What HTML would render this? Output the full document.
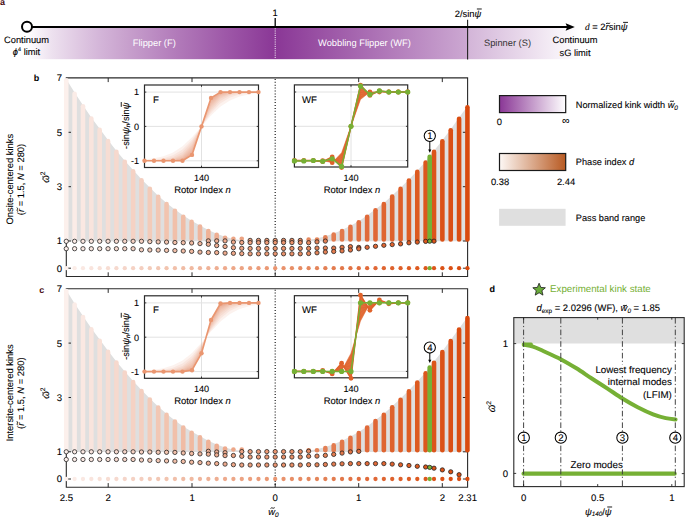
<!DOCTYPE html>
<html><head><meta charset="utf-8"><style>html,body{margin:0;padding:0;background:#fff;overflow:hidden}svg{display:block;text-rendering:geometricPrecision}text{paint-order:stroke;stroke:#000;stroke-width:0.1px}text[fill]{stroke:none}</style></head><body>
<svg width="685" height="517" viewBox="0 0 685 517" font-family="&quot;Liberation Sans&quot;, sans-serif">
<rect width="685" height="517" fill="#fff"></rect>
<defs><linearGradient id="ga" x1="27" x2="580" y1="0" y2="0" gradientUnits="userSpaceOnUse"><stop offset="0" stop-color="#fff"></stop><stop offset="0.0449" stop-color="#ede1ef"></stop><stop offset="0.0898" stop-color="#e0cae3"></stop><stop offset="0.1346" stop-color="#d3b4d8"></stop><stop offset="0.1795" stop-color="#c8a1cd"></stop><stop offset="0.2244" stop-color="#bd8ec4"></stop><stop offset="0.2693" stop-color="#b27bba"></stop><stop offset="0.3142" stop-color="#a86ab1"></stop><stop offset="0.3591" stop-color="#9e58a8"></stop><stop offset="0.4039" stop-color="#94489f"></stop><stop offset="0.4488" stop-color="#8a3796"></stop><stop offset="0.7967" stop-color="#cca8d2"></stop><stop offset="0.7978" stop-color="#d3b5d8"></stop><stop offset="1" stop-color="#fff"></stop></linearGradient><linearGradient id="gp" x1="0" x2="1"><stop offset="0" stop-color="#8a3796"></stop><stop offset="1" stop-color="#fff"></stop></linearGradient><linearGradient id="go" x1="0" x2="1"><stop offset="0" stop-color="#fdf8f5"></stop><stop offset="1" stop-color="#b85a22"></stop></linearGradient></defs>
<rect x="27" y="28" width="553" height="31.2" fill="url(#ga)"></rect>
<line x1="275.2" y1="28.3" x2="275.2" y2="59" stroke="#fff" stroke-width="1" stroke-dasharray="1 1.2"></line>
<line x1="467.6" y1="19.8" x2="467.6" y2="59.4" stroke="#222" stroke-width="1.1"></line>
<line x1="32" y1="27" x2="568" y2="27" stroke="#000" stroke-width="2"></line>
<polygon points="565.6,23.2 574.8,27 565.6,30.8 567.2,27" fill="#000"></polygon>
<circle cx="27" cy="26.8" r="5" fill="#fff" stroke="#000" stroke-width="2"></circle>
<line x1="275.2" y1="18" x2="275.2" y2="27" stroke="#000" stroke-width="1.3"></line>
<text x="275" y="16" text-anchor="middle" font-size="9.4">1</text>
<text x="468" y="16.6" text-anchor="middle" font-size="9.4">2/sin<tspan font-style="italic">ψ</tspan></text><path d="M476.87 8.99 H481.76" fill="none" stroke="#000" stroke-width="0.89"></path>
<text x="585" y="30" font-size="9.4"><tspan font-family="'Liberation Serif', serif" font-style="italic">d</tspan> = 2<tspan font-style="italic">r</tspan>sin<tspan font-style="italic">ψ</tspan></text><path d="M623.08 22.39 H627.97" fill="none" stroke="#000" stroke-width="0.89"></path><path d="M606.03 23.76 C607.06 22.20 609.13 24.46 610.16 22.91" fill="none" stroke="#000" stroke-width="0.89"></path>
<text x="26.5" y="42.8" text-anchor="middle" font-size="9.3">Continuum</text>
<text x="26.5" y="54.6" text-anchor="middle" font-size="9.3"><tspan font-style="italic">ϕ</tspan><tspan font-size="5.5" dy="-3.5">4</tspan><tspan dy="3.5"> limit</tspan></text>
<text x="575" y="42.8" text-anchor="middle" font-size="9.3">Continuum</text>
<text x="575" y="55.8" text-anchor="middle" font-size="9.3">sG limit</text>
<text x="154.3" y="46" text-anchor="middle" font-size="9.3" fill="#fff">Flipper (F)</text>
<text x="364.5" y="46" text-anchor="middle" font-size="9.3" fill="#fff">Wobbling Flipper (WF)</text>
<text x="507.5" y="46" text-anchor="middle" font-size="9.3" fill="#333">Spinner (S)</text>
<text x="0" y="4.5" font-size="9" font-weight="bold" fill="#4a0f14">a</text>
<polygon points="66.2,241.2 66.2,79.1 74.6,92.6 83.0,105.2 91.3,117.4 99.7,128.8 108.0,140.0 116.4,150.7 124.8,160.7 133.1,170.1 141.5,179.2 149.8,187.6 158.2,195.7 166.5,203.0 174.9,209.6 183.3,215.6 191.6,220.8 200.0,225.5 208.3,229.9 216.7,233.8 225.1,236.7 233.4,239.0 241.8,240.3 250.1,241.8 258.5,241.8 266.8,241.8 275.2,241.8 283.6,241.8 291.9,241.8 300.3,241.8 308.6,239.7 317.0,238.5 325.3,236.2 333.7,233.5 342.1,230.0 350.4,225.8 358.8,221.2 367.1,215.6 375.5,209.2 383.9,202.9 392.2,195.4 400.6,187.8 408.9,179.5 417.3,170.7 425.6,161.4 429.7,155.6 434.0,150.8 442.4,140.2 450.7,129.2 459.1,117.6 467.4,106.2 467.4,241.2" fill="#dfdfdf"></polygon>
<path d="M66.3 77.9 H467.6 V276.5 H66.3 Z" fill="none" stroke="#2a2a2a" stroke-width="1.1"></path>
<path d="M108.2 77.9V82.1M108.2 276.5V272.3M192.0 77.9V82.1M192.0 276.5V272.3M358.7 77.9V82.1M358.7 276.5V272.3M442.3 77.9V82.1M442.3 276.5V272.3M275.2 276.5V272.3M66.3 132.3H71.0M467.6 132.3H462.9M66.3 186.7H71.0M467.6 186.7H462.9M66.3 241.0H71.0M467.6 241.0H462.9M66.3 268.2H71.0M467.6 268.2H462.9" stroke="#2a2a2a" stroke-width="1" fill="none"></path>
<line x1="275.2" y1="78.9" x2="275.2" y2="275.5" stroke="#1a1a1a" stroke-width="1.2" stroke-dasharray="1 1.9"></line>
<line x1="66.25" y1="80.2" x2="66.25" y2="238.7" stroke="#fcf0ec" stroke-width="4.6" stroke-linecap="round"></line>
<line x1="74.61" y1="93.7" x2="74.61" y2="238.7" stroke="#fbece7" stroke-width="4.6" stroke-linecap="round"></line>
<line x1="82.97" y1="106.3" x2="82.97" y2="238.7" stroke="#fae8e2" stroke-width="4.6" stroke-linecap="round"></line>
<line x1="91.32" y1="118.5" x2="91.32" y2="238.7" stroke="#f9e4dd" stroke-width="4.6" stroke-linecap="round"></line>
<line x1="99.68" y1="129.9" x2="99.68" y2="238.7" stroke="#f8e1d8" stroke-width="4.6" stroke-linecap="round"></line>
<line x1="108.04" y1="141.1" x2="108.04" y2="238.7" stroke="#f7ddd3" stroke-width="4.6" stroke-linecap="round"></line>
<line x1="116.40" y1="151.8" x2="116.40" y2="238.7" stroke="#f6d9ce" stroke-width="4.6" stroke-linecap="round"></line>
<line x1="124.76" y1="161.8" x2="124.76" y2="238.7" stroke="#f5d5c9" stroke-width="4.6" stroke-linecap="round"></line>
<line x1="133.11" y1="171.2" x2="133.11" y2="238.7" stroke="#f5d2c4" stroke-width="4.6" stroke-linecap="round"></line>
<line x1="141.47" y1="180.3" x2="141.47" y2="238.7" stroke="#f4cebf" stroke-width="4.6" stroke-linecap="round"></line>
<line x1="149.83" y1="188.7" x2="149.83" y2="238.7" stroke="#f3cbb9" stroke-width="4.6" stroke-linecap="round"></line>
<line x1="158.19" y1="196.8" x2="158.19" y2="238.7" stroke="#f2c7b4" stroke-width="4.6" stroke-linecap="round"></line>
<line x1="166.55" y1="204.1" x2="166.55" y2="238.7" stroke="#f2c4af" stroke-width="4.6" stroke-linecap="round"></line>
<line x1="174.90" y1="210.7" x2="174.90" y2="238.7" stroke="#f1c0aa" stroke-width="4.6" stroke-linecap="round"></line>
<line x1="183.26" y1="216.7" x2="183.26" y2="238.7" stroke="#f0bca5" stroke-width="4.6" stroke-linecap="round"></line>
<line x1="191.62" y1="221.9" x2="191.62" y2="238.7" stroke="#f0b9a0" stroke-width="4.6" stroke-linecap="round"></line>
<line x1="199.98" y1="226.6" x2="199.98" y2="238.7" stroke="#efb59c" stroke-width="4.6" stroke-linecap="round"></line>
<line x1="208.34" y1="231.0" x2="208.34" y2="238.7" stroke="#efb297" stroke-width="4.6" stroke-linecap="round"></line>
<line x1="216.69" y1="234.9" x2="216.69" y2="238.7" stroke="#eeae92" stroke-width="4.6" stroke-linecap="round"></line>
<line x1="225.05" y1="237.8" x2="225.05" y2="238.7" stroke="#eeaa8d" stroke-width="4.6" stroke-linecap="round"></line>
<line x1="233.41" y1="238.7" x2="233.41" y2="238.7" stroke="#eda788" stroke-width="4.6" stroke-linecap="round"></line>
<line x1="241.77" y1="238.7" x2="241.77" y2="238.7" stroke="#eca383" stroke-width="4.6" stroke-linecap="round"></line>
<line x1="308.63" y1="239.5" x2="308.63" y2="239.5" stroke="#e5885e" stroke-width="4.6" stroke-linecap="round"></line>
<line x1="316.99" y1="239.5" x2="316.99" y2="239.5" stroke="#e4855a" stroke-width="4.6" stroke-linecap="round"></line>
<line x1="325.35" y1="237.3" x2="325.35" y2="239.5" stroke="#e38055" stroke-width="4.6" stroke-linecap="round"></line>
<line x1="333.71" y1="234.6" x2="333.71" y2="239.5" stroke="#e37c4f" stroke-width="4.6" stroke-linecap="round"></line>
<line x1="342.06" y1="231.1" x2="342.06" y2="239.5" stroke="#e2784a" stroke-width="4.6" stroke-linecap="round"></line>
<line x1="350.42" y1="226.9" x2="350.42" y2="239.5" stroke="#e17345" stroke-width="4.6" stroke-linecap="round"></line>
<line x1="358.78" y1="222.3" x2="358.78" y2="239.5" stroke="#e16e3f" stroke-width="4.6" stroke-linecap="round"></line>
<line x1="367.14" y1="216.7" x2="367.14" y2="239.5" stroke="#e06a3a" stroke-width="4.6" stroke-linecap="round"></line>
<line x1="375.50" y1="210.3" x2="375.50" y2="239.5" stroke="#e06736" stroke-width="4.6" stroke-linecap="round"></line>
<line x1="383.85" y1="204.0" x2="383.85" y2="239.5" stroke="#df6531" stroke-width="4.6" stroke-linecap="round"></line>
<line x1="392.21" y1="196.5" x2="392.21" y2="239.5" stroke="#de622d" stroke-width="4.6" stroke-linecap="round"></line>
<line x1="400.57" y1="188.9" x2="400.57" y2="239.5" stroke="#de5f29" stroke-width="4.6" stroke-linecap="round"></line>
<line x1="408.93" y1="180.6" x2="408.93" y2="239.5" stroke="#de5d24" stroke-width="4.6" stroke-linecap="round"></line>
<line x1="417.29" y1="171.8" x2="417.29" y2="239.5" stroke="#dd5a20" stroke-width="4.6" stroke-linecap="round"></line>
<line x1="425.64" y1="162.5" x2="425.64" y2="239.5" stroke="#dc571d" stroke-width="4.6" stroke-linecap="round"></line>
<line x1="434.00" y1="151.9" x2="434.00" y2="239.5" stroke="#dc551a" stroke-width="4.6" stroke-linecap="round"></line>
<line x1="442.36" y1="141.3" x2="442.36" y2="239.5" stroke="#db5217" stroke-width="4.6" stroke-linecap="round"></line>
<line x1="450.72" y1="130.3" x2="450.72" y2="239.5" stroke="#da4f14" stroke-width="4.6" stroke-linecap="round"></line>
<line x1="459.08" y1="118.7" x2="459.08" y2="239.5" stroke="#da4d11" stroke-width="4.6" stroke-linecap="round"></line>
<line x1="467.43" y1="107.3" x2="467.43" y2="239.5" stroke="#d94a0e" stroke-width="4.6" stroke-linecap="round"></line>
<line x1="429.70" y1="156.7" x2="429.70" y2="239.5" stroke="#76b035" stroke-width="4.6" stroke-linecap="round"></line>
<circle cx="66.25" cy="241.3" r="2.15" fill="#fcf0ec" stroke="#1a1a1a" stroke-width="0.75"></circle>
<circle cx="66.25" cy="248.7" r="2.15" fill="#fcf0ec" stroke="#1a1a1a" stroke-width="0.75"></circle>
<circle cx="74.61" cy="241.3" r="2.15" fill="#fbece7" stroke="#1a1a1a" stroke-width="0.75"></circle>
<circle cx="74.61" cy="248.7" r="2.15" fill="#fbece7" stroke="#1a1a1a" stroke-width="0.75"></circle>
<circle cx="82.97" cy="241.3" r="2.15" fill="#fae8e2" stroke="#1a1a1a" stroke-width="0.75"></circle>
<circle cx="82.97" cy="248.7" r="2.15" fill="#fae8e2" stroke="#1a1a1a" stroke-width="0.75"></circle>
<circle cx="91.32" cy="241.3" r="2.15" fill="#f9e4dd" stroke="#1a1a1a" stroke-width="0.75"></circle>
<circle cx="91.32" cy="248.7" r="2.15" fill="#f9e4dd" stroke="#1a1a1a" stroke-width="0.75"></circle>
<circle cx="99.68" cy="241.3" r="2.15" fill="#f8e1d8" stroke="#1a1a1a" stroke-width="0.75"></circle>
<circle cx="99.68" cy="248.7" r="2.15" fill="#f8e1d8" stroke="#1a1a1a" stroke-width="0.75"></circle>
<circle cx="108.04" cy="241.3" r="2.15" fill="#f7ddd3" stroke="#1a1a1a" stroke-width="0.75"></circle>
<circle cx="108.04" cy="248.7" r="2.15" fill="#f7ddd3" stroke="#1a1a1a" stroke-width="0.75"></circle>
<circle cx="116.40" cy="241.3" r="2.15" fill="#f6d9ce" stroke="#1a1a1a" stroke-width="0.75"></circle>
<circle cx="116.40" cy="248.7" r="2.15" fill="#f6d9ce" stroke="#1a1a1a" stroke-width="0.75"></circle>
<circle cx="124.76" cy="241.3" r="2.15" fill="#f5d5c9" stroke="#1a1a1a" stroke-width="0.75"></circle>
<circle cx="124.76" cy="248.7" r="2.15" fill="#f5d5c9" stroke="#1a1a1a" stroke-width="0.75"></circle>
<circle cx="133.11" cy="241.3" r="2.15" fill="#f5d2c4" stroke="#1a1a1a" stroke-width="0.75"></circle>
<circle cx="133.11" cy="248.7" r="2.15" fill="#f5d2c4" stroke="#1a1a1a" stroke-width="0.75"></circle>
<circle cx="141.47" cy="241.3" r="2.15" fill="#f4cebf" stroke="#1a1a1a" stroke-width="0.75"></circle>
<circle cx="141.47" cy="249.8" r="2.15" fill="#f4cebf" stroke="#1a1a1a" stroke-width="0.75"></circle>
<circle cx="149.83" cy="241.6" r="2.15" fill="#f3cbb9" stroke="#1a1a1a" stroke-width="0.75"></circle>
<circle cx="149.83" cy="250.0" r="2.15" fill="#f3cbb9" stroke="#1a1a1a" stroke-width="0.75"></circle>
<circle cx="158.19" cy="241.9" r="2.15" fill="#f2c7b4" stroke="#1a1a1a" stroke-width="0.75"></circle>
<circle cx="158.19" cy="250.1" r="2.15" fill="#f2c7b4" stroke="#1a1a1a" stroke-width="0.75"></circle>
<circle cx="166.55" cy="242.1" r="2.15" fill="#f2c4af" stroke="#1a1a1a" stroke-width="0.75"></circle>
<circle cx="166.55" cy="250.4" r="2.15" fill="#f2c4af" stroke="#1a1a1a" stroke-width="0.75"></circle>
<circle cx="174.90" cy="242.5" r="2.15" fill="#f1c0aa" stroke="#1a1a1a" stroke-width="0.75"></circle>
<circle cx="174.90" cy="250.6" r="2.15" fill="#f1c0aa" stroke="#1a1a1a" stroke-width="0.75"></circle>
<circle cx="183.26" cy="242.7" r="2.15" fill="#f0bca5" stroke="#1a1a1a" stroke-width="0.75"></circle>
<circle cx="183.26" cy="251.0" r="2.15" fill="#f0bca5" stroke="#1a1a1a" stroke-width="0.75"></circle>
<circle cx="191.62" cy="243.0" r="2.15" fill="#f0b9a0" stroke="#1a1a1a" stroke-width="0.75"></circle>
<circle cx="191.62" cy="251.4" r="2.15" fill="#f0b9a0" stroke="#1a1a1a" stroke-width="0.75"></circle>
<circle cx="199.98" cy="243.6" r="2.15" fill="#efb59c" stroke="#1a1a1a" stroke-width="0.75"></circle>
<circle cx="199.98" cy="252.1" r="2.15" fill="#efb59c" stroke="#1a1a1a" stroke-width="0.75"></circle>
<circle cx="208.34" cy="240.9" r="2.15" fill="#efb297" stroke="#1a1a1a" stroke-width="0.75"></circle>
<circle cx="208.34" cy="244.3" r="2.15" fill="#efb297" stroke="#1a1a1a" stroke-width="0.75"></circle>
<circle cx="208.34" cy="252.5" r="2.15" fill="#efb297" stroke="#1a1a1a" stroke-width="0.75"></circle>
<circle cx="216.69" cy="240.9" r="2.15" fill="#eeae92" stroke="#1a1a1a" stroke-width="0.75"></circle>
<circle cx="216.69" cy="245.6" r="2.15" fill="#eeae92" stroke="#1a1a1a" stroke-width="0.75"></circle>
<circle cx="216.69" cy="252.6" r="2.15" fill="#eeae92" stroke="#1a1a1a" stroke-width="0.75"></circle>
<circle cx="225.05" cy="240.9" r="2.15" fill="#eeaa8d" stroke="#1a1a1a" stroke-width="0.75"></circle>
<circle cx="225.05" cy="246.5" r="2.15" fill="#eeaa8d" stroke="#1a1a1a" stroke-width="0.75"></circle>
<circle cx="225.05" cy="253.1" r="2.15" fill="#eeaa8d" stroke="#1a1a1a" stroke-width="0.75"></circle>
<circle cx="233.41" cy="242.1" r="2.15" fill="#eda788" stroke="#1a1a1a" stroke-width="0.75"></circle>
<circle cx="233.41" cy="247.7" r="2.15" fill="#eda788" stroke="#1a1a1a" stroke-width="0.75"></circle>
<circle cx="233.41" cy="253.3" r="2.15" fill="#eda788" stroke="#1a1a1a" stroke-width="0.75"></circle>
<circle cx="241.77" cy="242.5" r="2.15" fill="#eca383" stroke="#1a1a1a" stroke-width="0.75"></circle>
<circle cx="241.77" cy="248.3" r="2.15" fill="#eca383" stroke="#1a1a1a" stroke-width="0.75"></circle>
<circle cx="241.77" cy="253.6" r="2.15" fill="#eca383" stroke="#1a1a1a" stroke-width="0.75"></circle>
<circle cx="250.13" cy="240.4" r="2.15" fill="#eca07e" stroke="#1a1a1a" stroke-width="0.75"></circle>
<circle cx="250.13" cy="242.6" r="2.15" fill="#eca07e" stroke="#1a1a1a" stroke-width="0.75"></circle>
<circle cx="250.13" cy="248.5" r="2.15" fill="#eca07e" stroke="#1a1a1a" stroke-width="0.75"></circle>
<circle cx="250.13" cy="253.8" r="2.15" fill="#eca07e" stroke="#1a1a1a" stroke-width="0.75"></circle>
<circle cx="258.48" cy="240.4" r="2.15" fill="#eb9c7a" stroke="#1a1a1a" stroke-width="0.75"></circle>
<circle cx="258.48" cy="242.6" r="2.15" fill="#eb9c7a" stroke="#1a1a1a" stroke-width="0.75"></circle>
<circle cx="258.48" cy="248.5" r="2.15" fill="#eb9c7a" stroke="#1a1a1a" stroke-width="0.75"></circle>
<circle cx="258.48" cy="253.8" r="2.15" fill="#eb9c7a" stroke="#1a1a1a" stroke-width="0.75"></circle>
<circle cx="266.84" cy="240.4" r="2.15" fill="#eb9975" stroke="#1a1a1a" stroke-width="0.75"></circle>
<circle cx="266.84" cy="242.6" r="2.15" fill="#eb9975" stroke="#1a1a1a" stroke-width="0.75"></circle>
<circle cx="266.84" cy="248.5" r="2.15" fill="#eb9975" stroke="#1a1a1a" stroke-width="0.75"></circle>
<circle cx="266.84" cy="253.8" r="2.15" fill="#eb9975" stroke="#1a1a1a" stroke-width="0.75"></circle>
<circle cx="275.20" cy="240.4" r="2.15" fill="#ea9570" stroke="#1a1a1a" stroke-width="0.75"></circle>
<circle cx="275.20" cy="242.6" r="2.15" fill="#ea9570" stroke="#1a1a1a" stroke-width="0.75"></circle>
<circle cx="275.20" cy="248.5" r="2.15" fill="#ea9570" stroke="#1a1a1a" stroke-width="0.75"></circle>
<circle cx="275.20" cy="253.8" r="2.15" fill="#ea9570" stroke="#1a1a1a" stroke-width="0.75"></circle>
<circle cx="283.56" cy="240.4" r="2.15" fill="#e9926c" stroke="#1a1a1a" stroke-width="0.75"></circle>
<circle cx="283.56" cy="242.6" r="2.15" fill="#e9926c" stroke="#1a1a1a" stroke-width="0.75"></circle>
<circle cx="283.56" cy="248.5" r="2.15" fill="#e9926c" stroke="#1a1a1a" stroke-width="0.75"></circle>
<circle cx="283.56" cy="253.8" r="2.15" fill="#e9926c" stroke="#1a1a1a" stroke-width="0.75"></circle>
<circle cx="291.92" cy="240.4" r="2.15" fill="#e88f67" stroke="#1a1a1a" stroke-width="0.75"></circle>
<circle cx="291.92" cy="242.6" r="2.15" fill="#e88f67" stroke="#1a1a1a" stroke-width="0.75"></circle>
<circle cx="291.92" cy="248.5" r="2.15" fill="#e88f67" stroke="#1a1a1a" stroke-width="0.75"></circle>
<circle cx="291.92" cy="253.8" r="2.15" fill="#e88f67" stroke="#1a1a1a" stroke-width="0.75"></circle>
<circle cx="300.27" cy="240.4" r="2.15" fill="#e68b63" stroke="#1a1a1a" stroke-width="0.75"></circle>
<circle cx="300.27" cy="242.6" r="2.15" fill="#e68b63" stroke="#1a1a1a" stroke-width="0.75"></circle>
<circle cx="300.27" cy="248.5" r="2.15" fill="#e68b63" stroke="#1a1a1a" stroke-width="0.75"></circle>
<circle cx="300.27" cy="253.8" r="2.15" fill="#e68b63" stroke="#1a1a1a" stroke-width="0.75"></circle>
<circle cx="308.63" cy="242.7" r="2.15" fill="#e5885e" stroke="#1a1a1a" stroke-width="0.75"></circle>
<circle cx="308.63" cy="248.4" r="2.15" fill="#e5885e" stroke="#1a1a1a" stroke-width="0.75"></circle>
<circle cx="308.63" cy="253.5" r="2.15" fill="#e5885e" stroke="#1a1a1a" stroke-width="0.75"></circle>
<circle cx="316.99" cy="241.9" r="2.15" fill="#e4855a" stroke="#1a1a1a" stroke-width="0.75"></circle>
<circle cx="316.99" cy="248.1" r="2.15" fill="#e4855a" stroke="#1a1a1a" stroke-width="0.75"></circle>
<circle cx="316.99" cy="252.8" r="2.15" fill="#e4855a" stroke="#1a1a1a" stroke-width="0.75"></circle>
<circle cx="325.35" cy="241.1" r="2.15" fill="#e38055" stroke="#1a1a1a" stroke-width="0.75"></circle>
<circle cx="325.35" cy="248.1" r="2.15" fill="#e38055" stroke="#1a1a1a" stroke-width="0.75"></circle>
<circle cx="325.35" cy="252.0" r="2.15" fill="#e38055" stroke="#1a1a1a" stroke-width="0.75"></circle>
<circle cx="333.71" cy="248.1" r="2.15" fill="#e37c4f" stroke="#1a1a1a" stroke-width="0.75"></circle>
<circle cx="333.71" cy="251.5" r="2.15" fill="#e37c4f" stroke="#1a1a1a" stroke-width="0.75"></circle>
<circle cx="342.06" cy="247.3" r="2.15" fill="#e2784a" stroke="#1a1a1a" stroke-width="0.75"></circle>
<circle cx="342.06" cy="250.9" r="2.15" fill="#e2784a" stroke="#1a1a1a" stroke-width="0.75"></circle>
<circle cx="350.42" cy="246.6" r="2.15" fill="#e17345" stroke="#1a1a1a" stroke-width="0.75"></circle>
<circle cx="350.42" cy="250.0" r="2.15" fill="#e17345" stroke="#1a1a1a" stroke-width="0.75"></circle>
<circle cx="358.78" cy="247.4" r="2.15" fill="#e16e3f" stroke="#1a1a1a" stroke-width="0.75"></circle>
<circle cx="358.78" cy="248.8" r="2.15" fill="#e16e3f" stroke="#1a1a1a" stroke-width="0.75"></circle>
<circle cx="367.14" cy="247.3" r="2.15" fill="#e06a3a" stroke="#1a1a1a" stroke-width="0.75"></circle>
<circle cx="375.50" cy="246.3" r="2.15" fill="#e06736" stroke="#1a1a1a" stroke-width="0.75"></circle>
<circle cx="383.85" cy="245.3" r="2.15" fill="#df6531" stroke="#1a1a1a" stroke-width="0.75"></circle>
<circle cx="392.21" cy="244.6" r="2.15" fill="#de622d" stroke="#1a1a1a" stroke-width="0.75"></circle>
<circle cx="400.57" cy="243.9" r="2.15" fill="#de5f29" stroke="#1a1a1a" stroke-width="0.75"></circle>
<circle cx="408.93" cy="242.8" r="2.15" fill="#de5d24" stroke="#1a1a1a" stroke-width="0.75"></circle>
<circle cx="417.29" cy="242.1" r="2.15" fill="#dd5a20" stroke="#1a1a1a" stroke-width="0.75"></circle>
<circle cx="425.64" cy="241.4" r="2.15" fill="#dc571d" stroke="#1a1a1a" stroke-width="0.75"></circle>
<circle cx="434.00" cy="241.2" r="2.15" fill="#dc551a" stroke="#1a1a1a" stroke-width="0.75"></circle>
<circle cx="429.70" cy="241.2" r="2.15" fill="#76b035" stroke="#1a1a1a" stroke-width="0.75"></circle>
<circle cx="66.25" cy="268.2" r="2.15" fill="#fcf0ec"></circle>
<circle cx="74.61" cy="268.2" r="2.15" fill="#fbece7"></circle>
<circle cx="82.97" cy="268.2" r="2.15" fill="#fae8e2"></circle>
<circle cx="91.32" cy="268.2" r="2.15" fill="#f9e4dd"></circle>
<circle cx="99.68" cy="268.2" r="2.15" fill="#f8e1d8"></circle>
<circle cx="108.04" cy="268.2" r="2.15" fill="#f7ddd3"></circle>
<circle cx="116.40" cy="268.2" r="2.15" fill="#f6d9ce"></circle>
<circle cx="124.76" cy="268.2" r="2.15" fill="#f5d5c9"></circle>
<circle cx="133.11" cy="268.2" r="2.15" fill="#f5d2c4"></circle>
<circle cx="141.47" cy="268.2" r="2.15" fill="#f4cebf"></circle>
<circle cx="149.83" cy="268.2" r="2.15" fill="#f3cbb9"></circle>
<circle cx="158.19" cy="268.2" r="2.15" fill="#f2c7b4"></circle>
<circle cx="166.55" cy="268.2" r="2.15" fill="#f2c4af"></circle>
<circle cx="174.90" cy="268.2" r="2.15" fill="#f1c0aa"></circle>
<circle cx="183.26" cy="268.2" r="2.15" fill="#f0bca5"></circle>
<circle cx="191.62" cy="268.2" r="2.15" fill="#f0b9a0"></circle>
<circle cx="199.98" cy="268.2" r="2.15" fill="#efb59c"></circle>
<circle cx="208.34" cy="268.2" r="2.15" fill="#efb297"></circle>
<circle cx="216.69" cy="268.2" r="2.15" fill="#eeae92"></circle>
<circle cx="225.05" cy="268.2" r="2.15" fill="#eeaa8d"></circle>
<circle cx="233.41" cy="268.2" r="2.15" fill="#eda788"></circle>
<circle cx="241.77" cy="268.2" r="2.15" fill="#eca383"></circle>
<circle cx="250.13" cy="268.2" r="2.15" fill="#eca07e"></circle>
<circle cx="258.48" cy="268.2" r="2.15" fill="#eb9c7a"></circle>
<circle cx="266.84" cy="268.2" r="2.15" fill="#eb9975"></circle>
<circle cx="275.20" cy="268.2" r="2.15" fill="#ea9570"></circle>
<circle cx="283.56" cy="268.2" r="2.15" fill="#e9926c"></circle>
<circle cx="291.92" cy="268.2" r="2.15" fill="#e88f67"></circle>
<circle cx="300.27" cy="268.2" r="2.15" fill="#e68b63"></circle>
<circle cx="308.63" cy="268.2" r="2.15" fill="#e5885e"></circle>
<circle cx="316.99" cy="268.2" r="2.15" fill="#e4855a"></circle>
<circle cx="325.35" cy="268.2" r="2.15" fill="#e38055"></circle>
<circle cx="333.71" cy="268.2" r="2.15" fill="#e37c4f"></circle>
<circle cx="342.06" cy="268.2" r="2.15" fill="#e2784a"></circle>
<circle cx="350.42" cy="268.2" r="2.15" fill="#e17345"></circle>
<circle cx="358.78" cy="268.2" r="2.15" fill="#e16e3f"></circle>
<circle cx="367.14" cy="268.2" r="2.15" fill="#e06a3a"></circle>
<circle cx="375.50" cy="268.2" r="2.15" fill="#e06736"></circle>
<circle cx="383.85" cy="268.2" r="2.15" fill="#df6531"></circle>
<circle cx="392.21" cy="268.2" r="2.15" fill="#de622d"></circle>
<circle cx="400.57" cy="268.2" r="2.15" fill="#de5f29"></circle>
<circle cx="408.93" cy="268.2" r="2.15" fill="#de5d24"></circle>
<circle cx="417.29" cy="268.2" r="2.15" fill="#dd5a20"></circle>
<circle cx="425.64" cy="268.2" r="2.15" fill="#dc571d"></circle>
<circle cx="434.00" cy="268.2" r="2.15" fill="#dc551a"></circle>
<circle cx="442.36" cy="268.2" r="2.15" fill="#db5217"></circle>
<circle cx="450.72" cy="268.2" r="2.15" fill="#da4f14"></circle>
<circle cx="459.08" cy="268.2" r="2.15" fill="#da4d11"></circle>
<circle cx="467.43" cy="268.2" r="2.15" fill="#d94a0e"></circle>
<circle cx="429.70" cy="268.2" r="2.15" fill="#76b035"></circle>
<text x="62" y="81.4" text-anchor="end" font-size="9.6">7</text>
<text x="62" y="135.7" text-anchor="end" font-size="9.6">5</text>
<text x="62" y="190.1" text-anchor="end" font-size="9.6">3</text>
<text x="62" y="244.4" text-anchor="end" font-size="9.6">1</text>
<text x="62" y="271.6" text-anchor="end" font-size="9.6">0</text>
<text x="33.8" y="80.8" font-size="9" font-weight="bold" fill="#000">b</text>
<text transform="translate(48.9 177.2) rotate(-90)" text-anchor="middle" font-size="9.6"><tspan font-style="italic">ω</tspan><tspan font-size="6.6" dy="-3.6">2</tspan></text><path d="M-2.99 -5.38 C-1.93 -6.96 0.18 -4.66 1.24 -6.24" fill="none" stroke="#000" stroke-width="0.91" transform="translate(48.9 177.2) rotate(-90)"></path>
<text transform="translate(13.0 179.2) rotate(-90)" text-anchor="middle" font-size="9.4">Onsite-centered kinks</text>
<text transform="translate(24.0 179.5) rotate(-90)" text-anchor="middle" font-size="9.4">(<tspan font-style="italic">r</tspan> = 1.5, <tspan font-style="italic">N</tspan> = 280)</text><path d="M-32.15 -6.24 C-31.12 -7.80 -29.05 -5.54 -28.02 -7.09" fill="none" stroke="#000" stroke-width="0.89" transform="translate(24.0 179.5) rotate(-90)"></path>
<polygon points="66.2,452.0 66.2,289.9 74.6,303.4 83.0,316.0 91.3,328.2 99.7,339.6 108.0,350.8 116.4,361.5 124.8,371.5 133.1,380.9 141.5,390.0 149.8,398.4 158.2,406.5 166.5,413.8 174.9,420.4 183.3,426.4 191.6,431.6 200.0,436.3 208.3,440.7 216.7,444.6 225.1,447.5 233.4,449.8 241.8,451.1 250.1,452.6 258.5,452.6 266.8,452.6 275.2,452.6 283.6,452.6 291.9,452.6 300.3,452.6 308.6,450.5 317.0,449.3 325.3,447.0 333.7,444.3 342.1,440.8 350.4,436.6 358.8,432.0 367.1,426.4 375.5,420.0 383.9,413.7 392.2,406.2 400.6,398.6 408.9,390.3 417.3,381.5 425.6,372.2 429.7,366.4 434.0,361.6 442.4,351.0 450.7,340.0 459.1,328.4 467.4,317.0 467.4,452.0" fill="#dfdfdf"></polygon>
<path d="M66.3 288.7 H467.6 V487.3 H66.3 Z" fill="none" stroke="#2a2a2a" stroke-width="1.1"></path>
<path d="M108.2 288.7V292.9M108.2 487.3V483.1M192.0 288.7V292.9M192.0 487.3V483.1M358.7 288.7V292.9M358.7 487.3V483.1M442.3 288.7V292.9M442.3 487.3V483.1M275.2 487.3V483.1M66.3 343.1H71.0M467.6 343.1H462.9M66.3 397.5H71.0M467.6 397.5H462.9M66.3 451.8H71.0M467.6 451.8H462.9M66.3 479.0H71.0M467.6 479.0H462.9" stroke="#2a2a2a" stroke-width="1" fill="none"></path>
<line x1="275.2" y1="289.7" x2="275.2" y2="486.3" stroke="#1a1a1a" stroke-width="1.2" stroke-dasharray="1 1.9"></line>
<line x1="66.25" y1="291.0" x2="66.25" y2="449.5" stroke="#fcf0ec" stroke-width="4.6" stroke-linecap="round"></line>
<line x1="74.61" y1="304.5" x2="74.61" y2="449.5" stroke="#fbece7" stroke-width="4.6" stroke-linecap="round"></line>
<line x1="82.97" y1="317.1" x2="82.97" y2="449.5" stroke="#fae8e2" stroke-width="4.6" stroke-linecap="round"></line>
<line x1="91.32" y1="329.3" x2="91.32" y2="449.5" stroke="#f9e4dd" stroke-width="4.6" stroke-linecap="round"></line>
<line x1="99.68" y1="340.7" x2="99.68" y2="449.5" stroke="#f8e1d8" stroke-width="4.6" stroke-linecap="round"></line>
<line x1="108.04" y1="351.9" x2="108.04" y2="449.5" stroke="#f7ddd3" stroke-width="4.6" stroke-linecap="round"></line>
<line x1="116.40" y1="362.6" x2="116.40" y2="449.5" stroke="#f6d9ce" stroke-width="4.6" stroke-linecap="round"></line>
<line x1="124.76" y1="372.6" x2="124.76" y2="449.5" stroke="#f5d5c9" stroke-width="4.6" stroke-linecap="round"></line>
<line x1="133.11" y1="382.0" x2="133.11" y2="449.5" stroke="#f5d2c4" stroke-width="4.6" stroke-linecap="round"></line>
<line x1="141.47" y1="391.1" x2="141.47" y2="449.5" stroke="#f4cebf" stroke-width="4.6" stroke-linecap="round"></line>
<line x1="149.83" y1="399.5" x2="149.83" y2="449.5" stroke="#f3cbb9" stroke-width="4.6" stroke-linecap="round"></line>
<line x1="158.19" y1="407.6" x2="158.19" y2="449.5" stroke="#f2c7b4" stroke-width="4.6" stroke-linecap="round"></line>
<line x1="166.55" y1="414.9" x2="166.55" y2="449.5" stroke="#f2c4af" stroke-width="4.6" stroke-linecap="round"></line>
<line x1="174.90" y1="421.5" x2="174.90" y2="449.5" stroke="#f1c0aa" stroke-width="4.6" stroke-linecap="round"></line>
<line x1="183.26" y1="427.5" x2="183.26" y2="449.5" stroke="#f0bca5" stroke-width="4.6" stroke-linecap="round"></line>
<line x1="191.62" y1="432.7" x2="191.62" y2="449.5" stroke="#f0b9a0" stroke-width="4.6" stroke-linecap="round"></line>
<line x1="199.98" y1="437.4" x2="199.98" y2="449.5" stroke="#efb59c" stroke-width="4.6" stroke-linecap="round"></line>
<line x1="208.34" y1="441.8" x2="208.34" y2="449.5" stroke="#efb297" stroke-width="4.6" stroke-linecap="round"></line>
<line x1="216.69" y1="445.7" x2="216.69" y2="449.5" stroke="#eeae92" stroke-width="4.6" stroke-linecap="round"></line>
<line x1="225.05" y1="448.6" x2="225.05" y2="449.5" stroke="#eeaa8d" stroke-width="4.6" stroke-linecap="round"></line>
<line x1="233.41" y1="449.5" x2="233.41" y2="449.5" stroke="#eda788" stroke-width="4.6" stroke-linecap="round"></line>
<line x1="241.77" y1="449.5" x2="241.77" y2="449.5" stroke="#eca383" stroke-width="4.6" stroke-linecap="round"></line>
<line x1="308.63" y1="450.3" x2="308.63" y2="450.3" stroke="#e5885e" stroke-width="4.6" stroke-linecap="round"></line>
<line x1="316.99" y1="450.3" x2="316.99" y2="450.3" stroke="#e4855a" stroke-width="4.6" stroke-linecap="round"></line>
<line x1="325.35" y1="448.1" x2="325.35" y2="450.3" stroke="#e38055" stroke-width="4.6" stroke-linecap="round"></line>
<line x1="333.71" y1="445.4" x2="333.71" y2="450.3" stroke="#e37c4f" stroke-width="4.6" stroke-linecap="round"></line>
<line x1="342.06" y1="441.9" x2="342.06" y2="450.3" stroke="#e2784a" stroke-width="4.6" stroke-linecap="round"></line>
<line x1="350.42" y1="437.7" x2="350.42" y2="450.3" stroke="#e17345" stroke-width="4.6" stroke-linecap="round"></line>
<line x1="358.78" y1="433.1" x2="358.78" y2="450.3" stroke="#e16e3f" stroke-width="4.6" stroke-linecap="round"></line>
<line x1="367.14" y1="427.5" x2="367.14" y2="450.3" stroke="#e06a3a" stroke-width="4.6" stroke-linecap="round"></line>
<line x1="375.50" y1="421.1" x2="375.50" y2="450.3" stroke="#e06736" stroke-width="4.6" stroke-linecap="round"></line>
<line x1="383.85" y1="414.8" x2="383.85" y2="450.3" stroke="#df6531" stroke-width="4.6" stroke-linecap="round"></line>
<line x1="392.21" y1="407.3" x2="392.21" y2="450.3" stroke="#de622d" stroke-width="4.6" stroke-linecap="round"></line>
<line x1="400.57" y1="399.7" x2="400.57" y2="450.3" stroke="#de5f29" stroke-width="4.6" stroke-linecap="round"></line>
<line x1="408.93" y1="391.4" x2="408.93" y2="450.3" stroke="#de5d24" stroke-width="4.6" stroke-linecap="round"></line>
<line x1="417.29" y1="382.6" x2="417.29" y2="450.3" stroke="#dd5a20" stroke-width="4.6" stroke-linecap="round"></line>
<line x1="425.64" y1="373.3" x2="425.64" y2="450.3" stroke="#dc571d" stroke-width="4.6" stroke-linecap="round"></line>
<line x1="434.00" y1="362.7" x2="434.00" y2="450.3" stroke="#dc551a" stroke-width="4.6" stroke-linecap="round"></line>
<line x1="442.36" y1="352.1" x2="442.36" y2="450.3" stroke="#db5217" stroke-width="4.6" stroke-linecap="round"></line>
<line x1="450.72" y1="341.1" x2="450.72" y2="450.3" stroke="#da4f14" stroke-width="4.6" stroke-linecap="round"></line>
<line x1="459.08" y1="329.5" x2="459.08" y2="450.3" stroke="#da4d11" stroke-width="4.6" stroke-linecap="round"></line>
<line x1="467.43" y1="318.1" x2="467.43" y2="450.3" stroke="#d94a0e" stroke-width="4.6" stroke-linecap="round"></line>
<line x1="429.70" y1="367.5" x2="429.70" y2="450.3" stroke="#76b035" stroke-width="4.6" stroke-linecap="round"></line>
<circle cx="66.25" cy="451.8" r="2.15" fill="#fcf0ec" stroke="#1a1a1a" stroke-width="0.75"></circle>
<circle cx="66.25" cy="459.5" r="2.15" fill="#fcf0ec" stroke="#1a1a1a" stroke-width="0.75"></circle>
<circle cx="74.61" cy="451.8" r="2.15" fill="#fbece7" stroke="#1a1a1a" stroke-width="0.75"></circle>
<circle cx="74.61" cy="459.5" r="2.15" fill="#fbece7" stroke="#1a1a1a" stroke-width="0.75"></circle>
<circle cx="82.97" cy="451.8" r="2.15" fill="#fae8e2" stroke="#1a1a1a" stroke-width="0.75"></circle>
<circle cx="82.97" cy="459.5" r="2.15" fill="#fae8e2" stroke="#1a1a1a" stroke-width="0.75"></circle>
<circle cx="91.32" cy="451.8" r="2.15" fill="#f9e4dd" stroke="#1a1a1a" stroke-width="0.75"></circle>
<circle cx="91.32" cy="459.5" r="2.15" fill="#f9e4dd" stroke="#1a1a1a" stroke-width="0.75"></circle>
<circle cx="99.68" cy="451.8" r="2.15" fill="#f8e1d8" stroke="#1a1a1a" stroke-width="0.75"></circle>
<circle cx="99.68" cy="459.5" r="2.15" fill="#f8e1d8" stroke="#1a1a1a" stroke-width="0.75"></circle>
<circle cx="108.04" cy="451.8" r="2.15" fill="#f7ddd3" stroke="#1a1a1a" stroke-width="0.75"></circle>
<circle cx="108.04" cy="459.5" r="2.15" fill="#f7ddd3" stroke="#1a1a1a" stroke-width="0.75"></circle>
<circle cx="116.40" cy="451.8" r="2.15" fill="#f6d9ce" stroke="#1a1a1a" stroke-width="0.75"></circle>
<circle cx="116.40" cy="459.5" r="2.15" fill="#f6d9ce" stroke="#1a1a1a" stroke-width="0.75"></circle>
<circle cx="124.76" cy="451.8" r="2.15" fill="#f5d5c9" stroke="#1a1a1a" stroke-width="0.75"></circle>
<circle cx="124.76" cy="459.5" r="2.15" fill="#f5d5c9" stroke="#1a1a1a" stroke-width="0.75"></circle>
<circle cx="133.11" cy="451.8" r="2.15" fill="#f5d2c4" stroke="#1a1a1a" stroke-width="0.75"></circle>
<circle cx="133.11" cy="459.5" r="2.15" fill="#f5d2c4" stroke="#1a1a1a" stroke-width="0.75"></circle>
<circle cx="141.47" cy="452.0" r="2.15" fill="#f4cebf" stroke="#1a1a1a" stroke-width="0.75"></circle>
<circle cx="141.47" cy="460.0" r="2.15" fill="#f4cebf" stroke="#1a1a1a" stroke-width="0.75"></circle>
<circle cx="149.83" cy="452.0" r="2.15" fill="#f3cbb9" stroke="#1a1a1a" stroke-width="0.75"></circle>
<circle cx="149.83" cy="460.3" r="2.15" fill="#f3cbb9" stroke="#1a1a1a" stroke-width="0.75"></circle>
<circle cx="158.19" cy="452.3" r="2.15" fill="#f2c7b4" stroke="#1a1a1a" stroke-width="0.75"></circle>
<circle cx="158.19" cy="460.6" r="2.15" fill="#f2c7b4" stroke="#1a1a1a" stroke-width="0.75"></circle>
<circle cx="166.55" cy="452.3" r="2.15" fill="#f2c4af" stroke="#1a1a1a" stroke-width="0.75"></circle>
<circle cx="166.55" cy="460.9" r="2.15" fill="#f2c4af" stroke="#1a1a1a" stroke-width="0.75"></circle>
<circle cx="174.90" cy="452.4" r="2.15" fill="#f1c0aa" stroke="#1a1a1a" stroke-width="0.75"></circle>
<circle cx="174.90" cy="461.2" r="2.15" fill="#f1c0aa" stroke="#1a1a1a" stroke-width="0.75"></circle>
<circle cx="183.26" cy="453.0" r="2.15" fill="#f0bca5" stroke="#1a1a1a" stroke-width="0.75"></circle>
<circle cx="183.26" cy="461.5" r="2.15" fill="#f0bca5" stroke="#1a1a1a" stroke-width="0.75"></circle>
<circle cx="191.62" cy="453.5" r="2.15" fill="#f0b9a0" stroke="#1a1a1a" stroke-width="0.75"></circle>
<circle cx="191.62" cy="462.2" r="2.15" fill="#f0b9a0" stroke="#1a1a1a" stroke-width="0.75"></circle>
<circle cx="199.98" cy="453.9" r="2.15" fill="#efb59c" stroke="#1a1a1a" stroke-width="0.75"></circle>
<circle cx="199.98" cy="462.6" r="2.15" fill="#efb59c" stroke="#1a1a1a" stroke-width="0.75"></circle>
<circle cx="208.34" cy="451.3" r="2.15" fill="#efb297" stroke="#1a1a1a" stroke-width="0.75"></circle>
<circle cx="208.34" cy="454.2" r="2.15" fill="#efb297" stroke="#1a1a1a" stroke-width="0.75"></circle>
<circle cx="208.34" cy="463.2" r="2.15" fill="#efb297" stroke="#1a1a1a" stroke-width="0.75"></circle>
<circle cx="216.69" cy="452.0" r="2.15" fill="#eeae92" stroke="#1a1a1a" stroke-width="0.75"></circle>
<circle cx="216.69" cy="454.9" r="2.15" fill="#eeae92" stroke="#1a1a1a" stroke-width="0.75"></circle>
<circle cx="216.69" cy="463.6" r="2.15" fill="#eeae92" stroke="#1a1a1a" stroke-width="0.75"></circle>
<circle cx="225.05" cy="452.7" r="2.15" fill="#eeaa8d" stroke="#1a1a1a" stroke-width="0.75"></circle>
<circle cx="225.05" cy="455.6" r="2.15" fill="#eeaa8d" stroke="#1a1a1a" stroke-width="0.75"></circle>
<circle cx="225.05" cy="464.1" r="2.15" fill="#eeaa8d" stroke="#1a1a1a" stroke-width="0.75"></circle>
<circle cx="233.41" cy="455.5" r="2.15" fill="#eda788" stroke="#1a1a1a" stroke-width="0.75"></circle>
<circle cx="233.41" cy="464.7" r="2.15" fill="#eda788" stroke="#1a1a1a" stroke-width="0.75"></circle>
<circle cx="241.77" cy="451.6" r="2.15" fill="#eca383" stroke="#1a1a1a" stroke-width="0.75"></circle>
<circle cx="241.77" cy="456.3" r="2.15" fill="#eca383" stroke="#1a1a1a" stroke-width="0.75"></circle>
<circle cx="241.77" cy="465.0" r="2.15" fill="#eca383" stroke="#1a1a1a" stroke-width="0.75"></circle>
<circle cx="250.13" cy="451.6" r="2.15" fill="#eca07e" stroke="#1a1a1a" stroke-width="0.75"></circle>
<circle cx="250.13" cy="457.0" r="2.15" fill="#eca07e" stroke="#1a1a1a" stroke-width="0.75"></circle>
<circle cx="250.13" cy="465.0" r="2.15" fill="#eca07e" stroke="#1a1a1a" stroke-width="0.75"></circle>
<circle cx="258.48" cy="451.6" r="2.15" fill="#eb9c7a" stroke="#1a1a1a" stroke-width="0.75"></circle>
<circle cx="258.48" cy="457.0" r="2.15" fill="#eb9c7a" stroke="#1a1a1a" stroke-width="0.75"></circle>
<circle cx="258.48" cy="465.0" r="2.15" fill="#eb9c7a" stroke="#1a1a1a" stroke-width="0.75"></circle>
<circle cx="266.84" cy="451.6" r="2.15" fill="#eb9975" stroke="#1a1a1a" stroke-width="0.75"></circle>
<circle cx="266.84" cy="457.0" r="2.15" fill="#eb9975" stroke="#1a1a1a" stroke-width="0.75"></circle>
<circle cx="266.84" cy="465.0" r="2.15" fill="#eb9975" stroke="#1a1a1a" stroke-width="0.75"></circle>
<circle cx="275.20" cy="451.6" r="2.15" fill="#ea9570" stroke="#1a1a1a" stroke-width="0.75"></circle>
<circle cx="275.20" cy="457.0" r="2.15" fill="#ea9570" stroke="#1a1a1a" stroke-width="0.75"></circle>
<circle cx="275.20" cy="465.0" r="2.15" fill="#ea9570" stroke="#1a1a1a" stroke-width="0.75"></circle>
<circle cx="283.56" cy="451.6" r="2.15" fill="#e9926c" stroke="#1a1a1a" stroke-width="0.75"></circle>
<circle cx="283.56" cy="457.0" r="2.15" fill="#e9926c" stroke="#1a1a1a" stroke-width="0.75"></circle>
<circle cx="283.56" cy="465.0" r="2.15" fill="#e9926c" stroke="#1a1a1a" stroke-width="0.75"></circle>
<circle cx="291.92" cy="451.6" r="2.15" fill="#e88f67" stroke="#1a1a1a" stroke-width="0.75"></circle>
<circle cx="291.92" cy="457.0" r="2.15" fill="#e88f67" stroke="#1a1a1a" stroke-width="0.75"></circle>
<circle cx="291.92" cy="465.0" r="2.15" fill="#e88f67" stroke="#1a1a1a" stroke-width="0.75"></circle>
<circle cx="300.27" cy="451.6" r="2.15" fill="#e68b63" stroke="#1a1a1a" stroke-width="0.75"></circle>
<circle cx="300.27" cy="457.0" r="2.15" fill="#e68b63" stroke="#1a1a1a" stroke-width="0.75"></circle>
<circle cx="300.27" cy="465.0" r="2.15" fill="#e68b63" stroke="#1a1a1a" stroke-width="0.75"></circle>
<circle cx="308.63" cy="451.2" r="2.15" fill="#e5885e" stroke="#1a1a1a" stroke-width="0.75"></circle>
<circle cx="308.63" cy="456.3" r="2.15" fill="#e5885e" stroke="#1a1a1a" stroke-width="0.75"></circle>
<circle cx="308.63" cy="464.7" r="2.15" fill="#e5885e" stroke="#1a1a1a" stroke-width="0.75"></circle>
<circle cx="316.99" cy="456.1" r="2.15" fill="#e4855a" stroke="#1a1a1a" stroke-width="0.75"></circle>
<circle cx="316.99" cy="464.8" r="2.15" fill="#e4855a" stroke="#1a1a1a" stroke-width="0.75"></circle>
<circle cx="325.35" cy="455.4" r="2.15" fill="#e38055" stroke="#1a1a1a" stroke-width="0.75"></circle>
<circle cx="325.35" cy="464.5" r="2.15" fill="#e38055" stroke="#1a1a1a" stroke-width="0.75"></circle>
<circle cx="333.71" cy="454.4" r="2.15" fill="#e37c4f" stroke="#1a1a1a" stroke-width="0.75"></circle>
<circle cx="333.71" cy="464.1" r="2.15" fill="#e37c4f" stroke="#1a1a1a" stroke-width="0.75"></circle>
<circle cx="342.06" cy="453.1" r="2.15" fill="#e2784a" stroke="#1a1a1a" stroke-width="0.75"></circle>
<circle cx="342.06" cy="463.8" r="2.15" fill="#e2784a" stroke="#1a1a1a" stroke-width="0.75"></circle>
<circle cx="350.42" cy="451.9" r="2.15" fill="#e17345" stroke="#1a1a1a" stroke-width="0.75"></circle>
<circle cx="350.42" cy="463.6" r="2.15" fill="#e17345" stroke="#1a1a1a" stroke-width="0.75"></circle>
<circle cx="358.78" cy="451.4" r="2.15" fill="#e16e3f" stroke="#1a1a1a" stroke-width="0.75"></circle>
<circle cx="358.78" cy="463.6" r="2.15" fill="#e16e3f" stroke="#1a1a1a" stroke-width="0.75"></circle>
<circle cx="367.14" cy="463.6" r="2.15" fill="#e06a3a" stroke="#1a1a1a" stroke-width="0.75"></circle>
<circle cx="375.50" cy="463.6" r="2.15" fill="#e06736" stroke="#1a1a1a" stroke-width="0.75"></circle>
<circle cx="383.85" cy="463.6" r="2.15" fill="#df6531" stroke="#1a1a1a" stroke-width="0.75"></circle>
<circle cx="392.21" cy="464.1" r="2.15" fill="#de622d" stroke="#1a1a1a" stroke-width="0.75"></circle>
<circle cx="400.57" cy="464.8" r="2.15" fill="#de5f29" stroke="#1a1a1a" stroke-width="0.75"></circle>
<circle cx="408.93" cy="465.5" r="2.15" fill="#de5d24" stroke="#1a1a1a" stroke-width="0.75"></circle>
<circle cx="417.29" cy="466.3" r="2.15" fill="#dd5a20" stroke="#1a1a1a" stroke-width="0.75"></circle>
<circle cx="425.64" cy="467.0" r="2.15" fill="#dc571d" stroke="#1a1a1a" stroke-width="0.75"></circle>
<circle cx="434.00" cy="468.2" r="2.15" fill="#dc551a" stroke="#1a1a1a" stroke-width="0.75"></circle>
<circle cx="442.36" cy="469.9" r="2.15" fill="#db5217" stroke="#1a1a1a" stroke-width="0.75"></circle>
<circle cx="450.72" cy="471.8" r="2.15" fill="#da4f14" stroke="#1a1a1a" stroke-width="0.75"></circle>
<circle cx="459.08" cy="474.7" r="2.15" fill="#da4d11" stroke="#1a1a1a" stroke-width="0.75"></circle>
<circle cx="429.70" cy="467.4" r="2.15" fill="#76b035" stroke="#1a1a1a" stroke-width="0.75"></circle>
<circle cx="66.25" cy="479.0" r="2.15" fill="#fcf0ec"></circle>
<circle cx="74.61" cy="479.0" r="2.15" fill="#fbece7"></circle>
<circle cx="82.97" cy="479.0" r="2.15" fill="#fae8e2"></circle>
<circle cx="91.32" cy="479.0" r="2.15" fill="#f9e4dd"></circle>
<circle cx="99.68" cy="479.0" r="2.15" fill="#f8e1d8"></circle>
<circle cx="108.04" cy="479.0" r="2.15" fill="#f7ddd3"></circle>
<circle cx="116.40" cy="479.0" r="2.15" fill="#f6d9ce"></circle>
<circle cx="124.76" cy="479.0" r="2.15" fill="#f5d5c9"></circle>
<circle cx="133.11" cy="479.0" r="2.15" fill="#f5d2c4"></circle>
<circle cx="141.47" cy="479.0" r="2.15" fill="#f4cebf"></circle>
<circle cx="149.83" cy="479.0" r="2.15" fill="#f3cbb9"></circle>
<circle cx="158.19" cy="479.0" r="2.15" fill="#f2c7b4"></circle>
<circle cx="166.55" cy="479.0" r="2.15" fill="#f2c4af"></circle>
<circle cx="174.90" cy="479.0" r="2.15" fill="#f1c0aa"></circle>
<circle cx="183.26" cy="479.0" r="2.15" fill="#f0bca5"></circle>
<circle cx="191.62" cy="479.0" r="2.15" fill="#f0b9a0"></circle>
<circle cx="199.98" cy="479.0" r="2.15" fill="#efb59c"></circle>
<circle cx="208.34" cy="479.0" r="2.15" fill="#efb297"></circle>
<circle cx="216.69" cy="479.0" r="2.15" fill="#eeae92"></circle>
<circle cx="225.05" cy="479.0" r="2.15" fill="#eeaa8d"></circle>
<circle cx="233.41" cy="479.0" r="2.15" fill="#eda788"></circle>
<circle cx="241.77" cy="479.0" r="2.15" fill="#eca383"></circle>
<circle cx="250.13" cy="479.0" r="2.15" fill="#eca07e"></circle>
<circle cx="258.48" cy="479.0" r="2.15" fill="#eb9c7a"></circle>
<circle cx="266.84" cy="479.0" r="2.15" fill="#eb9975"></circle>
<circle cx="275.20" cy="479.0" r="2.15" fill="#ea9570"></circle>
<circle cx="283.56" cy="479.0" r="2.15" fill="#e9926c"></circle>
<circle cx="291.92" cy="479.0" r="2.15" fill="#e88f67"></circle>
<circle cx="300.27" cy="479.0" r="2.15" fill="#e68b63"></circle>
<circle cx="308.63" cy="479.0" r="2.15" fill="#e5885e"></circle>
<circle cx="316.99" cy="479.0" r="2.15" fill="#e4855a"></circle>
<circle cx="325.35" cy="479.0" r="2.15" fill="#e38055"></circle>
<circle cx="333.71" cy="479.0" r="2.15" fill="#e37c4f"></circle>
<circle cx="342.06" cy="479.0" r="2.15" fill="#e2784a"></circle>
<circle cx="350.42" cy="479.0" r="2.15" fill="#e17345"></circle>
<circle cx="358.78" cy="479.0" r="2.15" fill="#e16e3f"></circle>
<circle cx="367.14" cy="479.0" r="2.15" fill="#e06a3a"></circle>
<circle cx="375.50" cy="479.0" r="2.15" fill="#e06736"></circle>
<circle cx="383.85" cy="479.0" r="2.15" fill="#df6531"></circle>
<circle cx="392.21" cy="479.0" r="2.15" fill="#de622d"></circle>
<circle cx="400.57" cy="479.0" r="2.15" fill="#de5f29"></circle>
<circle cx="408.93" cy="479.0" r="2.15" fill="#de5d24"></circle>
<circle cx="417.29" cy="479.0" r="2.15" fill="#dd5a20"></circle>
<circle cx="425.64" cy="479.0" r="2.15" fill="#dc571d"></circle>
<circle cx="434.00" cy="479.0" r="2.15" fill="#dc551a"></circle>
<circle cx="442.36" cy="479.0" r="2.15" fill="#db5217"></circle>
<circle cx="450.72" cy="479.0" r="2.15" fill="#da4f14"></circle>
<circle cx="459.08" cy="479.0" r="2.15" fill="#da4d11"></circle>
<circle cx="467.43" cy="479.0" r="2.15" fill="#d94a0e"></circle>
<circle cx="429.70" cy="479.0" r="2.15" fill="#76b035"></circle>
<text x="62" y="292.2" text-anchor="end" font-size="9.6">7</text>
<text x="62" y="346.5" text-anchor="end" font-size="9.6">5</text>
<text x="62" y="400.9" text-anchor="end" font-size="9.6">3</text>
<text x="62" y="455.2" text-anchor="end" font-size="9.6">1</text>
<text x="62" y="482.4" text-anchor="end" font-size="9.6">0</text>
<text x="39.2" y="292.8" font-size="9" font-weight="bold" fill="#4a0f14">c</text>
<text transform="translate(48.9 393.2) rotate(-90)" text-anchor="middle" font-size="9.6"><tspan font-style="italic">ω</tspan><tspan font-size="6.6" dy="-3.6">2</tspan></text><path d="M-2.99 -5.38 C-1.93 -6.96 0.18 -4.66 1.24 -6.24" fill="none" stroke="#000" stroke-width="0.91" transform="translate(48.9 393.2) rotate(-90)"></path>
<text transform="translate(13.0 392.9) rotate(-90)" text-anchor="middle" font-size="9.4">Intersite-centered kinks</text>
<text transform="translate(24.0 393.2) rotate(-90)" text-anchor="middle" font-size="9.4">(<tspan font-style="italic">r</tspan> = 1.5, <tspan font-style="italic">N</tspan> = 280)</text><path d="M-32.15 -6.24 C-31.12 -7.80 -29.05 -5.54 -28.02 -7.09" fill="none" stroke="#000" stroke-width="0.89" transform="translate(24.0 393.2) rotate(-90)"></path>
<text x="66.4" y="501.4" text-anchor="middle" font-size="9.6">2.5</text>
<text x="108.2" y="501.4" text-anchor="middle" font-size="9.6">2</text>
<text x="192.1" y="501.4" text-anchor="middle" font-size="9.6">1</text>
<text x="275.2" y="501.4" text-anchor="middle" font-size="9.6">0</text>
<text x="358.7" y="501.4" text-anchor="middle" font-size="9.6">1</text>
<text x="442.3" y="501.4" text-anchor="middle" font-size="9.6">2</text>
<text x="467.7" y="501.4" text-anchor="middle" font-size="9.6">2.31</text>
<text x="273.5" y="514.7" text-anchor="middle" font-size="9.4"><tspan font-style="italic">w</tspan><tspan font-style="italic" font-size="6.5" dy="2">0</tspan></text><path d="M270.56 508.46 C271.59 506.90 273.66 509.16 274.70 507.61" fill="none" stroke="#000" stroke-width="0.89"></path>
<rect x="499.5" y="95.6" width="66.2" height="17.0" fill="url(#gp)" stroke="#1a1a1a" stroke-width="1.2"></rect>
<text x="575.8" y="107.6" font-size="9.2">Normalized kink width <tspan font-style="italic">w</tspan><tspan font-style="italic" font-size="6.5" dy="2">0</tspan></text><path d="M669.94 101.68 C670.95 100.16 672.97 102.37 673.99 100.85" fill="none" stroke="#000" stroke-width="0.87"></path>
<text x="499.3" y="125.3" text-anchor="middle" font-size="9.4">0</text>
<text x="565.8" y="124.2" text-anchor="middle" font-size="10.5">∞</text>
<rect x="499.5" y="153.5" width="66.2" height="17.0" fill="url(#go)" stroke="#1a1a1a" stroke-width="1.2"></rect>
<text x="575.8" y="165.2" font-size="9.2">Phase index <tspan font-style="italic">d</tspan></text>
<text x="500" y="184.6" text-anchor="middle" font-size="9.4">0.38</text>
<text x="566" y="184.6" text-anchor="middle" font-size="9.4">2.44</text>
<rect x="499.1" y="208.8" width="66.5" height="17" fill="#dfdfdf"></rect>
<text x="575.8" y="221" font-size="9.2">Pass band range</text>
<rect x="144.5" y="85.0" width="114.0" height="82.5" fill="#fff"></rect>
<path d="M144.5 92.1H258.5M144.5 126.4H258.5M144.5 160.8H258.5M201.5 85.0V167.5" stroke="#e2e2e2" stroke-width="1" fill="none"></path>
<path d="M144.5 92.1h1.8M258.5 92.1h-1.8M144.5 126.4h1.8M258.5 126.4h-1.8M144.5 160.8h1.8M258.5 160.8h-1.8M201.5 167.5v-1.8M201.5 85.0v1.8" stroke="#222" stroke-width="0.9" fill="none"></path>
<rect x="144.5" y="85.0" width="114.0" height="82.5" fill="none" stroke="#2a2a2a" stroke-width="1.2"></rect>
<text x="201.5" y="180.9" text-anchor="middle" font-size="9.1">140</text>
<text x="202.5" y="192.9" text-anchor="middle" font-size="9.45">Rotor Index <tspan font-style="italic">n</tspan></text>
<polygon points="144.5,160.8 154.0,160.8 163.5,160.8 173.0,160.8 182.5,160.8 192.0,154.9 201.5,126.4 211.0,97.9 220.5,92.1 230.0,92.1 239.5,92.1 249.0,92.1 258.5,92.1 258.5,93.3 249.0,94.5 239.5,96.6 230.0,100.4 220.5,106.5 211.0,115.5 201.5,126.4 192.0,137.3 182.5,146.3 173.0,152.4 163.5,156.2 154.0,158.3 144.5,159.5" fill="#ea9670" fill-opacity="0.12"></polygon>
<polygon points="144.5,160.8 154.0,160.8 163.5,160.8 173.0,160.8 182.5,160.8 192.0,154.9 201.5,126.4 211.0,97.9 220.5,92.1 230.0,92.1 239.5,92.1 249.0,92.1 258.5,92.1 258.5,92.6 249.0,93.2 239.5,94.6 230.0,97.5 220.5,103.3 211.0,113.1 201.5,126.4 192.0,139.7 182.5,149.5 173.0,155.3 163.5,158.2 154.0,159.6 144.5,160.2" fill="#ea9670" fill-opacity="0.12"></polygon>
<polygon points="144.5,160.8 154.0,160.8 163.5,160.8 173.0,160.8 182.5,160.8 192.0,154.9 201.5,126.4 211.0,97.9 220.5,92.1 230.0,92.1 239.5,92.1 249.0,92.1 258.5,92.1 258.5,92.3 249.0,92.6 239.5,93.5 230.0,95.6 220.5,100.7 211.0,111.0 201.5,126.4 192.0,141.8 182.5,152.1 173.0,157.2 163.5,159.3 154.0,160.2 144.5,160.5" fill="#ea9670" fill-opacity="0.12"></polygon>
<polygon points="144.5,160.8 154.0,160.8 163.5,160.8 173.0,160.8 182.5,160.8 192.0,154.9 201.5,126.4 211.0,97.9 220.5,92.1 230.0,92.1 239.5,92.1 249.0,92.1 258.5,92.1 258.5,92.1 249.0,92.3 239.5,92.8 230.0,94.3 220.5,98.6 211.0,108.9 201.5,126.4 192.0,143.9 182.5,154.2 173.0,158.5 163.5,160.0 154.0,160.5 144.5,160.7" fill="#ea9670" fill-opacity="0.12"></polygon>
<polygon points="144.5,160.8 154.0,160.8 163.5,160.8 173.0,160.8 182.5,160.8 192.0,154.9 201.5,126.4 211.0,97.9 220.5,92.1 230.0,92.1 239.5,92.1 249.0,92.1 258.5,92.1 258.5,92.1 249.0,92.2 239.5,92.5 230.0,93.5 220.5,97.0 211.0,107.0 201.5,126.4 192.0,145.8 182.5,155.8 173.0,159.3 163.5,160.3 154.0,160.6 144.5,160.7" fill="#ea9670" fill-opacity="0.12"></polygon>
<polygon points="144.5,160.8 154.0,160.8 163.5,160.8 173.0,160.8 182.5,160.8 192.0,154.9 201.5,126.4 211.0,97.9 220.5,92.1 230.0,92.1 239.5,92.1 249.0,92.1 258.5,92.1 258.5,92.1 249.0,92.1 239.5,92.3 230.0,93.0 220.5,95.8 211.0,105.3 201.5,126.4 192.0,147.5 182.5,157.0 173.0,159.8 163.5,160.5 154.0,160.7 144.5,160.7" fill="#ea9670" fill-opacity="0.12"></polygon>
<polygon points="144.5,160.8 154.0,160.8 163.5,160.8 173.0,160.8 182.5,160.8 192.0,154.9 201.5,126.4 211.0,97.9 220.5,92.1 230.0,92.1 239.5,92.1 249.0,92.1 258.5,92.1 258.5,92.1 249.0,92.1 239.5,92.2 230.0,92.6 220.5,94.8 211.0,103.7 201.5,126.4 192.0,149.1 182.5,158.0 173.0,160.2 163.5,160.6 154.0,160.7 144.5,160.7" fill="#ea9670" fill-opacity="0.12"></polygon>
<polygon points="144.5,160.8 154.0,160.8 163.5,160.8 173.0,160.8 182.5,160.8 192.0,154.9 201.5,126.4 211.0,97.9 220.5,92.1 230.0,92.1 239.5,92.1 249.0,92.1 258.5,92.1 258.5,92.1 249.0,92.1 239.5,92.1 230.0,92.4 220.5,94.1 211.0,102.3 201.5,126.4 192.0,150.5 182.5,158.7 173.0,160.4 163.5,160.7 154.0,160.7 144.5,160.7" fill="#ea9670" fill-opacity="0.12"></polygon>
<polygon points="144.5,160.8 154.0,160.8 163.5,160.8 173.0,160.8 182.5,160.8 192.0,154.9 201.5,126.4 211.0,97.9 220.5,92.1 230.0,92.1 239.5,92.1 249.0,92.1 258.5,92.1 258.5,92.1 249.0,92.1 239.5,92.1 230.0,92.3 220.5,93.6 211.0,101.1 201.5,126.4 192.0,151.7 182.5,159.2 173.0,160.5 163.5,160.7 154.0,160.7 144.5,160.7" fill="#ea9670" fill-opacity="0.12"></polygon>
<polygon points="144.5,160.8 154.0,160.8 163.5,160.8 173.0,160.8 182.5,160.8 192.0,154.9 201.5,126.4 211.0,97.9 220.5,92.1 230.0,92.1 239.5,92.1 249.0,92.1 258.5,92.1 258.5,92.1 249.0,92.1 239.5,92.1 230.0,92.2 220.5,93.2 211.0,99.9 201.5,126.4 192.0,152.9 182.5,159.6 173.0,160.6 163.5,160.7 154.0,160.7 144.5,160.7" fill="#ea9670" fill-opacity="0.12"></polygon>
<polygon points="144.5,160.8 154.0,160.8 163.5,160.8 173.0,160.8 182.5,160.8 192.0,154.9 201.5,126.4 211.0,97.9 220.5,92.1 230.0,92.1 239.5,92.1 249.0,92.1 258.5,92.1 258.5,92.1 249.0,92.1 239.5,92.1 230.0,92.1 220.5,92.9 211.0,98.9 201.5,126.4 192.0,153.9 182.5,159.9 173.0,160.7 163.5,160.7 154.0,160.7 144.5,160.7" fill="#ea9670" fill-opacity="0.12"></polygon>
<polyline points="144.5,160.8 154.0,160.8 163.5,160.8 173.0,160.8 182.5,160.8 192.0,154.9 201.5,126.4 211.0,97.9 220.5,92.1 230.0,92.1 239.5,92.1 249.0,92.1 258.5,92.1" fill="none" stroke="#ea9670" stroke-width="1.6" stroke-opacity="1.00" stroke-linejoin="round"></polyline>
<circle cx="144.5" cy="160.8" r="2.2" fill="#ea9670"></circle>
<circle cx="154.0" cy="160.8" r="2.2" fill="#ea9670"></circle>
<circle cx="163.5" cy="160.8" r="2.2" fill="#ea9670"></circle>
<circle cx="173.0" cy="160.8" r="2.2" fill="#ea9670"></circle>
<circle cx="182.5" cy="160.8" r="2.2" fill="#ea9670"></circle>
<circle cx="192.0" cy="154.9" r="2.2" fill="#ea9670"></circle>
<circle cx="201.5" cy="126.4" r="2.2" fill="#ea9670"></circle>
<circle cx="211.0" cy="97.9" r="2.2" fill="#ea9670"></circle>
<circle cx="220.5" cy="92.1" r="2.2" fill="#ea9670"></circle>
<circle cx="230.0" cy="92.1" r="2.2" fill="#ea9670"></circle>
<circle cx="239.5" cy="92.1" r="2.2" fill="#ea9670"></circle>
<circle cx="249.0" cy="92.1" r="2.2" fill="#ea9670"></circle>
<circle cx="258.5" cy="92.1" r="2.2" fill="#ea9670"></circle>
<text x="153" y="102.5" font-size="9.6">F</text>
<text x="139.1" y="95.4" text-anchor="end" font-size="9.1">1</text>
<text x="139.1" y="129.7" text-anchor="end" font-size="9.1">0</text>
<text x="139.1" y="164.1" text-anchor="end" font-size="9.1">-1</text>
<text transform="translate(128.6 125.7) rotate(-90)" text-anchor="middle" font-size="9.3">-sin<tspan font-style="italic">ψ</tspan><tspan font-style="italic" font-size="6.3" dy="1.8">n</tspan><tspan dy="-1.8">/sin</tspan><tspan font-style="italic">ψ</tspan></text><path d="M18.84 -7.34 H23.68" fill="none" stroke="#000" stroke-width="0.88" transform="translate(128.6 125.7) rotate(-90)"></path>
<rect x="144.5" y="295.8" width="114.0" height="82.5" fill="#fff"></rect>
<path d="M144.5 302.9H258.5M144.5 337.2H258.5M144.5 371.6H258.5M201.5 295.8V378.3" stroke="#e2e2e2" stroke-width="1" fill="none"></path>
<path d="M144.5 302.9h1.8M258.5 302.9h-1.8M144.5 337.2h1.8M258.5 337.2h-1.8M144.5 371.6h1.8M258.5 371.6h-1.8M201.5 378.3v-1.8M201.5 295.8v1.8" stroke="#222" stroke-width="0.9" fill="none"></path>
<rect x="144.5" y="295.8" width="114.0" height="82.5" fill="none" stroke="#2a2a2a" stroke-width="1.2"></rect>
<text x="201.5" y="391.7" text-anchor="middle" font-size="9.1">140</text>
<text x="202.5" y="403.7" text-anchor="middle" font-size="9.45">Rotor Index <tspan font-style="italic">n</tspan></text>
<polygon points="144.5,371.6 154.0,371.6 163.5,371.6 173.0,371.6 182.5,371.6 192.0,370.2 201.5,353.3 211.0,320.0 220.5,303.5 230.0,302.9 239.5,302.9 249.0,302.9 258.5,302.9 258.5,304.6 249.0,306.2 239.5,309.1 230.0,313.9 220.5,321.5 211.0,331.6 201.5,342.8 192.0,352.9 182.5,360.5 173.0,365.3 163.5,368.2 154.0,369.8 144.5,370.6" fill="#ea9670" fill-opacity="0.12"></polygon>
<polygon points="144.5,371.6 154.0,371.6 163.5,371.6 173.0,371.6 182.5,371.6 192.0,370.2 201.5,353.3 211.0,320.0 220.5,303.5 230.0,302.9 239.5,302.9 249.0,302.9 258.5,302.9 258.5,303.6 249.0,304.6 239.5,306.6 230.0,310.8 220.5,318.5 211.0,330.3 201.5,344.1 192.0,355.9 182.5,363.6 173.0,367.8 163.5,369.8 154.0,370.8 144.5,371.2" fill="#ea9670" fill-opacity="0.12"></polygon>
<polygon points="144.5,371.6 154.0,371.6 163.5,371.6 173.0,371.6 182.5,371.6 192.0,370.2 201.5,353.3 211.0,320.0 220.5,303.5 230.0,302.9 239.5,302.9 249.0,302.9 258.5,302.9 258.5,303.2 249.0,303.7 239.5,305.1 230.0,308.5 220.5,315.9 211.0,329.0 201.5,345.4 192.0,358.5 182.5,365.9 173.0,369.3 163.5,370.7 154.0,371.2 144.5,371.4" fill="#ea9670" fill-opacity="0.12"></polygon>
<polygon points="144.5,371.6 154.0,371.6 163.5,371.6 173.0,371.6 182.5,371.6 192.0,370.2 201.5,353.3 211.0,320.0 220.5,303.5 230.0,302.9 239.5,302.9 249.0,302.9 258.5,302.9 258.5,303.0 249.0,303.3 239.5,304.2 230.0,306.8 220.5,313.6 211.0,327.8 201.5,346.6 192.0,360.8 182.5,367.6 173.0,370.2 163.5,371.1 154.0,371.4 144.5,371.5" fill="#ea9670" fill-opacity="0.12"></polygon>
<polygon points="144.5,371.6 154.0,371.6 163.5,371.6 173.0,371.6 182.5,371.6 192.0,370.2 201.5,353.3 211.0,320.0 220.5,303.5 230.0,302.9 239.5,302.9 249.0,302.9 258.5,302.9 258.5,302.9 249.0,303.1 239.5,303.6 230.0,305.6 220.5,311.7 211.0,326.6 201.5,347.8 192.0,362.7 182.5,368.8 173.0,370.8 163.5,371.3 154.0,371.5 144.5,371.5" fill="#ea9670" fill-opacity="0.12"></polygon>
<polygon points="144.5,371.6 154.0,371.6 163.5,371.6 173.0,371.6 182.5,371.6 192.0,370.2 201.5,353.3 211.0,320.0 220.5,303.5 230.0,302.9 239.5,302.9 249.0,302.9 258.5,302.9 258.5,302.9 249.0,303.0 239.5,303.3 230.0,304.7 220.5,310.0 211.0,325.4 201.5,349.0 192.0,364.4 182.5,369.7 173.0,371.1 163.5,371.4 154.0,371.5 144.5,371.5" fill="#ea9670" fill-opacity="0.12"></polygon>
<polygon points="144.5,371.6 154.0,371.6 163.5,371.6 173.0,371.6 182.5,371.6 192.0,370.2 201.5,353.3 211.0,320.0 220.5,303.5 230.0,302.9 239.5,302.9 249.0,302.9 258.5,302.9 258.5,302.9 249.0,302.9 239.5,303.1 230.0,304.1 220.5,308.7 211.0,324.3 201.5,350.1 192.0,365.7 182.5,370.3 173.0,371.3 163.5,371.5 154.0,371.5 144.5,371.5" fill="#ea9670" fill-opacity="0.12"></polygon>
<polygon points="144.5,371.6 154.0,371.6 163.5,371.6 173.0,371.6 182.5,371.6 192.0,370.2 201.5,353.3 211.0,320.0 220.5,303.5 230.0,302.9 239.5,302.9 249.0,302.9 258.5,302.9 258.5,302.9 249.0,302.9 239.5,303.0 230.0,303.7 220.5,307.6 211.0,323.1 201.5,351.3 192.0,366.8 182.5,370.7 173.0,371.4 163.5,371.5 154.0,371.5 144.5,371.5" fill="#ea9670" fill-opacity="0.12"></polygon>
<polygon points="144.5,371.6 154.0,371.6 163.5,371.6 173.0,371.6 182.5,371.6 192.0,370.2 201.5,353.3 211.0,320.0 220.5,303.5 230.0,302.9 239.5,302.9 249.0,302.9 258.5,302.9 258.5,302.9 249.0,302.9 239.5,302.9 230.0,303.5 220.5,306.6 211.0,322.1 201.5,352.3 192.0,367.8 182.5,370.9 173.0,371.5 163.5,371.5 154.0,371.5 144.5,371.5" fill="#ea9670" fill-opacity="0.12"></polygon>
<polygon points="144.5,371.6 154.0,371.6 163.5,371.6 173.0,371.6 182.5,371.6 192.0,370.2 201.5,353.3 211.0,320.0 220.5,303.5 230.0,302.9 239.5,302.9 249.0,302.9 258.5,302.9 258.5,302.9 249.0,302.9 239.5,302.9 230.0,303.3 220.5,305.9 211.0,321.0 201.5,353.4 192.0,368.5 182.5,371.1 173.0,371.5 163.5,371.5 154.0,371.5 144.5,371.5" fill="#ea9670" fill-opacity="0.12"></polygon>
<polygon points="144.5,371.6 154.0,371.6 163.5,371.6 173.0,371.6 182.5,371.6 192.0,370.2 201.5,353.3 211.0,320.0 220.5,303.5 230.0,302.9 239.5,302.9 249.0,302.9 258.5,302.9 258.5,302.9 249.0,302.9 239.5,302.9 230.0,303.1 220.5,305.3 211.0,320.0 201.5,354.4 192.0,369.1 182.5,371.3 173.0,371.5 163.5,371.5 154.0,371.5 144.5,371.5" fill="#ea9670" fill-opacity="0.12"></polygon>
<polyline points="144.5,371.6 154.0,371.6 163.5,371.6 173.0,371.6 182.5,371.6 192.0,370.2 201.5,353.3 211.0,320.0 220.5,303.5 230.0,302.9 239.5,302.9 249.0,302.9 258.5,302.9" fill="none" stroke="#ea9670" stroke-width="1.6" stroke-opacity="1.00" stroke-linejoin="round"></polyline>
<circle cx="144.5" cy="371.6" r="2.2" fill="#ea9670"></circle>
<circle cx="154.0" cy="371.6" r="2.2" fill="#ea9670"></circle>
<circle cx="163.5" cy="371.6" r="2.2" fill="#ea9670"></circle>
<circle cx="173.0" cy="371.6" r="2.2" fill="#ea9670"></circle>
<circle cx="182.5" cy="371.6" r="2.2" fill="#ea9670"></circle>
<circle cx="192.0" cy="370.2" r="2.2" fill="#ea9670"></circle>
<circle cx="201.5" cy="353.3" r="2.2" fill="#ea9670"></circle>
<circle cx="211.0" cy="320.0" r="2.2" fill="#ea9670"></circle>
<circle cx="220.5" cy="303.5" r="2.2" fill="#ea9670"></circle>
<circle cx="230.0" cy="302.9" r="2.2" fill="#ea9670"></circle>
<circle cx="239.5" cy="302.9" r="2.2" fill="#ea9670"></circle>
<circle cx="249.0" cy="302.9" r="2.2" fill="#ea9670"></circle>
<circle cx="258.5" cy="302.9" r="2.2" fill="#ea9670"></circle>
<text x="153" y="313.3" font-size="9.6">F</text>
<text x="139.1" y="306.2" text-anchor="end" font-size="9.1">1</text>
<text x="139.1" y="340.5" text-anchor="end" font-size="9.1">0</text>
<text x="139.1" y="374.9" text-anchor="end" font-size="9.1">-1</text>
<text transform="translate(128.6 336.5) rotate(-90)" text-anchor="middle" font-size="9.3">-sin<tspan font-style="italic">ψ</tspan><tspan font-style="italic" font-size="6.3" dy="1.8">n</tspan><tspan dy="-1.8">/sin</tspan><tspan font-style="italic">ψ</tspan></text><path d="M18.84 -7.34 H23.68" fill="none" stroke="#000" stroke-width="0.88" transform="translate(128.6 336.5) rotate(-90)"></path>
<rect x="294.4" y="84.9" width="113.3" height="82.1" fill="#fff"></rect>
<path d="M294.4 92.0H407.7M294.4 126.3H407.7M294.4 160.6H407.7M351.0 84.9V167.0" stroke="#e2e2e2" stroke-width="1" fill="none"></path>
<path d="M294.4 92.0h1.8M407.7 92.0h-1.8M294.4 126.3h1.8M407.7 126.3h-1.8M294.4 160.6h1.8M407.7 160.6h-1.8M351.0 167.0v-1.8M351.0 84.9v1.8" stroke="#222" stroke-width="0.9" fill="none"></path>
<rect x="294.4" y="84.9" width="113.3" height="82.1" fill="none" stroke="#2a2a2a" stroke-width="1.2"></rect>
<text x="351.0" y="180.9" text-anchor="middle" font-size="9.1">140</text>
<text x="352.0" y="192.9" text-anchor="middle" font-size="9.45">Rotor Index <tspan font-style="italic">n</tspan></text>
<polygon points="294.4,160.6 303.8,160.6 313.3,160.6 322.7,161.7 332.2,156.9 341.6,167.5 351.0,126.3 360.5,85.1 369.9,95.4 379.4,90.9 388.8,92.0 398.3,92.0 407.7,92.0 407.7,92.0 398.3,92.0 388.8,92.0 379.4,92.0 369.9,92.0 360.5,99.5 351.0,126.3 341.6,152.7 332.2,162.7 322.7,160.6 313.3,160.6 303.8,160.6 294.4,160.6" fill="#e0622a" fill-opacity="0.92" stroke="#e0622a" stroke-opacity="0.6" stroke-width="0.8" stroke-linejoin="round"></polygon>
<polyline points="294.4,160.6 303.8,160.6 313.3,160.6 322.7,161.5 332.2,157.8 341.6,165.1 351.0,126.3 360.5,87.5 369.9,94.8 379.4,91.1 388.8,92.0 398.3,92.0 407.7,92.0" fill="none" stroke="#e0622a" stroke-width="1.0" stroke-opacity="0.50" stroke-linejoin="round"></polyline>
<polyline points="294.4,160.6 303.8,160.6 313.3,160.6 322.7,161.3 332.2,158.8 341.6,162.6 351.0,126.3 360.5,89.9 369.9,94.2 379.4,91.3 388.8,92.0 398.3,92.0 407.7,92.0" fill="none" stroke="#e0622a" stroke-width="1.0" stroke-opacity="0.50" stroke-linejoin="round"></polyline>
<polyline points="294.4,160.6 303.8,160.6 313.3,160.6 322.7,161.2 332.2,159.8 341.6,160.1 351.0,126.3 360.5,92.3 369.9,93.7 379.4,91.4 388.8,92.0 398.3,92.0 407.7,92.0" fill="none" stroke="#e0622a" stroke-width="1.0" stroke-opacity="0.50" stroke-linejoin="round"></polyline>
<polyline points="294.4,160.6 303.8,160.6 313.3,160.6 322.7,161.0 332.2,160.8 341.6,157.7 351.0,126.3 360.5,94.7 369.9,93.1 379.4,91.6 388.8,92.0 398.3,92.0 407.7,92.0" fill="none" stroke="#e0622a" stroke-width="1.0" stroke-opacity="0.50" stroke-linejoin="round"></polyline>
<polyline points="294.4,160.6 303.8,160.6 313.3,160.6 322.7,160.8 332.2,161.7 341.6,155.2 351.0,126.3 360.5,97.1 369.9,92.5 379.4,91.8 388.8,92.0 398.3,92.0 407.7,92.0" fill="none" stroke="#e0622a" stroke-width="1.0" stroke-opacity="0.50" stroke-linejoin="round"></polyline>
<polyline points="294.4,160.6 303.8,160.6 313.3,160.6 322.7,161.7 332.2,156.9 341.6,167.5 351.0,126.3 360.5,85.1 369.9,95.4 379.4,90.9 388.8,92.0 398.3,92.0 407.7,92.0" fill="none" stroke="#e0622a" stroke-width="1.5" stroke-opacity="1.00" stroke-linejoin="round"></polyline>
<circle cx="294.4" cy="160.6" r="2.4" fill="#e0622a"></circle>
<circle cx="303.8" cy="160.6" r="2.4" fill="#e0622a"></circle>
<circle cx="313.3" cy="160.6" r="2.4" fill="#e0622a"></circle>
<circle cx="322.7" cy="160.6" r="2.4" fill="#e0622a"></circle>
<circle cx="332.2" cy="162.7" r="2.4" fill="#e0622a"></circle>
<circle cx="369.9" cy="92.0" r="2.4" fill="#e0622a"></circle>
<circle cx="379.4" cy="92.0" r="2.4" fill="#e0622a"></circle>
<circle cx="388.8" cy="92.0" r="2.4" fill="#e0622a"></circle>
<circle cx="398.3" cy="92.0" r="2.4" fill="#e0622a"></circle>
<circle cx="407.7" cy="92.0" r="2.4" fill="#e0622a"></circle>
<circle cx="294.4" cy="160.6" r="2.4" fill="#e0622a"></circle>
<circle cx="303.8" cy="160.6" r="2.4" fill="#e0622a"></circle>
<circle cx="313.3" cy="160.6" r="2.4" fill="#e0622a"></circle>
<circle cx="322.7" cy="161.7" r="2.4" fill="#e0622a"></circle>
<circle cx="332.2" cy="156.9" r="2.4" fill="#e0622a"></circle>
<circle cx="341.6" cy="167.5" r="2.4" fill="#e0622a"></circle>
<circle cx="351.0" cy="126.3" r="2.4" fill="#e0622a"></circle>
<circle cx="360.5" cy="85.1" r="2.4" fill="#e0622a"></circle>
<circle cx="369.9" cy="95.4" r="2.4" fill="#e0622a"></circle>
<circle cx="379.4" cy="90.9" r="2.4" fill="#e0622a"></circle>
<circle cx="388.8" cy="92.0" r="2.4" fill="#e0622a"></circle>
<circle cx="398.3" cy="92.0" r="2.4" fill="#e0622a"></circle>
<circle cx="407.7" cy="92.0" r="2.4" fill="#e0622a"></circle>
<polyline points="294.4,160.9 303.8,160.9 313.3,160.5 322.7,161.3 332.2,158.8 341.6,166.4 351.0,126.3 360.5,86.1 369.9,94.4 379.4,90.9 388.8,92.0 398.3,92.0 407.7,92.0" fill="none" stroke="#76b035" stroke-width="1.5" stroke-opacity="1.00" stroke-linejoin="round"></polyline>
<circle cx="294.4" cy="160.9" r="2.6" fill="#76b035"></circle>
<circle cx="303.8" cy="160.9" r="2.6" fill="#76b035"></circle>
<circle cx="313.3" cy="160.5" r="2.6" fill="#76b035"></circle>
<circle cx="322.7" cy="161.3" r="2.6" fill="#76b035"></circle>
<circle cx="332.2" cy="158.8" r="2.6" fill="#76b035"></circle>
<circle cx="341.6" cy="166.4" r="2.6" fill="#76b035"></circle>
<circle cx="351.0" cy="126.3" r="2.6" fill="#76b035"></circle>
<circle cx="360.5" cy="86.1" r="2.6" fill="#76b035"></circle>
<circle cx="369.9" cy="94.4" r="2.6" fill="#76b035"></circle>
<circle cx="379.4" cy="90.9" r="2.6" fill="#76b035"></circle>
<circle cx="388.8" cy="92.0" r="2.6" fill="#76b035"></circle>
<circle cx="398.3" cy="92.0" r="2.6" fill="#76b035"></circle>
<circle cx="407.7" cy="92.0" r="2.6" fill="#76b035"></circle>
<text x="302" y="102.6" font-size="9.6">WF</text>
<rect x="294.4" y="295.7" width="113.3" height="82.1" fill="#fff"></rect>
<path d="M294.4 302.8H407.7M294.4 337.1H407.7M294.4 371.4H407.7M351.0 295.7V377.8" stroke="#e2e2e2" stroke-width="1" fill="none"></path>
<path d="M294.4 302.8h1.8M407.7 302.8h-1.8M294.4 337.1h1.8M407.7 337.1h-1.8M294.4 371.4h1.8M407.7 371.4h-1.8M351.0 377.8v-1.8M351.0 295.7v1.8" stroke="#222" stroke-width="0.9" fill="none"></path>
<rect x="294.4" y="295.7" width="113.3" height="82.1" fill="none" stroke="#2a2a2a" stroke-width="1.2"></rect>
<text x="351.0" y="391.7" text-anchor="middle" font-size="9.1">140</text>
<text x="352.0" y="403.7" text-anchor="middle" font-size="9.45">Rotor Index <tspan font-style="italic">n</tspan></text>
<polygon points="294.4,371.4 303.8,371.4 313.3,371.4 322.7,370.4 332.2,373.9 341.6,363.2 351.0,378.3 360.5,295.2 369.9,310.3 379.4,300.0 388.8,303.8 398.3,302.8 407.7,302.8 407.7,302.8 398.3,302.8 388.8,302.8 379.4,302.8 369.9,303.4 360.5,321.0 351.0,353.2 341.6,370.8 332.2,371.4 322.7,371.4 313.3,371.4 303.8,371.4 294.4,371.4" fill="#e0622a" fill-opacity="0.92" stroke="#e0622a" stroke-opacity="0.6" stroke-width="0.8" stroke-linejoin="round"></polygon>
<polyline points="294.4,371.4 303.8,371.4 313.3,371.4 322.7,370.6 332.2,373.5 341.6,364.5 351.0,374.1 360.5,299.5 369.9,309.2 379.4,300.5 388.8,303.6 398.3,302.8 407.7,302.8" fill="none" stroke="#e0622a" stroke-width="1.0" stroke-opacity="0.50" stroke-linejoin="round"></polyline>
<polyline points="294.4,371.4 303.8,371.4 313.3,371.4 322.7,370.8 332.2,373.1 341.6,365.7 351.0,370.0 360.5,303.8 369.9,308.0 379.4,300.9 388.8,303.4 398.3,302.8 407.7,302.8" fill="none" stroke="#e0622a" stroke-width="1.0" stroke-opacity="0.50" stroke-linejoin="round"></polyline>
<polyline points="294.4,371.4 303.8,371.4 313.3,371.4 322.7,370.9 332.2,372.7 341.6,367.0 351.0,365.8 360.5,308.1 369.9,306.9 379.4,301.4 388.8,303.3 398.3,302.8 407.7,302.8" fill="none" stroke="#e0622a" stroke-width="1.0" stroke-opacity="0.50" stroke-linejoin="round"></polyline>
<polyline points="294.4,371.4 303.8,371.4 313.3,371.4 322.7,371.1 332.2,372.3 341.6,368.2 351.0,361.6 360.5,312.4 369.9,305.7 379.4,301.8 388.8,303.1 398.3,302.8 407.7,302.8" fill="none" stroke="#e0622a" stroke-width="1.0" stroke-opacity="0.50" stroke-linejoin="round"></polyline>
<polyline points="294.4,371.4 303.8,371.4 313.3,371.4 322.7,371.3 332.2,371.9 341.6,369.5 351.0,357.4 360.5,316.7 369.9,304.6 379.4,302.3 388.8,302.9 398.3,302.8 407.7,302.8" fill="none" stroke="#e0622a" stroke-width="1.0" stroke-opacity="0.50" stroke-linejoin="round"></polyline>
<polyline points="294.4,371.4 303.8,371.4 313.3,371.4 322.7,370.4 332.2,373.9 341.6,363.2 351.0,378.3 360.5,295.2 369.9,310.3 379.4,300.0 388.8,303.8 398.3,302.8 407.7,302.8" fill="none" stroke="#e0622a" stroke-width="1.5" stroke-opacity="1.00" stroke-linejoin="round"></polyline>
<circle cx="294.4" cy="371.4" r="2.4" fill="#e0622a"></circle>
<circle cx="303.8" cy="371.4" r="2.4" fill="#e0622a"></circle>
<circle cx="313.3" cy="371.4" r="2.4" fill="#e0622a"></circle>
<circle cx="322.7" cy="371.4" r="2.4" fill="#e0622a"></circle>
<circle cx="332.2" cy="371.4" r="2.4" fill="#e0622a"></circle>
<circle cx="341.6" cy="370.8" r="2.4" fill="#e0622a"></circle>
<circle cx="369.9" cy="303.4" r="2.4" fill="#e0622a"></circle>
<circle cx="379.4" cy="302.8" r="2.4" fill="#e0622a"></circle>
<circle cx="388.8" cy="302.8" r="2.4" fill="#e0622a"></circle>
<circle cx="398.3" cy="302.8" r="2.4" fill="#e0622a"></circle>
<circle cx="407.7" cy="302.8" r="2.4" fill="#e0622a"></circle>
<circle cx="294.4" cy="371.4" r="2.4" fill="#e0622a"></circle>
<circle cx="303.8" cy="371.4" r="2.4" fill="#e0622a"></circle>
<circle cx="313.3" cy="371.4" r="2.4" fill="#e0622a"></circle>
<circle cx="322.7" cy="370.4" r="2.4" fill="#e0622a"></circle>
<circle cx="332.2" cy="373.9" r="2.4" fill="#e0622a"></circle>
<circle cx="341.6" cy="363.2" r="2.4" fill="#e0622a"></circle>
<circle cx="351.0" cy="378.3" r="2.4" fill="#e0622a"></circle>
<circle cx="360.5" cy="295.2" r="2.4" fill="#e0622a"></circle>
<circle cx="369.9" cy="310.3" r="2.4" fill="#e0622a"></circle>
<circle cx="379.4" cy="300.0" r="2.4" fill="#e0622a"></circle>
<circle cx="388.8" cy="303.8" r="2.4" fill="#e0622a"></circle>
<circle cx="398.3" cy="302.8" r="2.4" fill="#e0622a"></circle>
<circle cx="407.7" cy="302.8" r="2.4" fill="#e0622a"></circle>
<polyline points="294.4,371.4 303.8,371.4 313.3,371.4 322.7,371.4 332.2,371.4 341.6,371.4 351.0,371.4 360.5,302.8 369.9,302.8 379.4,302.8 388.8,302.8 398.3,302.8 407.7,302.8" fill="none" stroke="#76b035" stroke-width="1.5" stroke-opacity="1.00" stroke-linejoin="round"></polyline>
<circle cx="294.4" cy="371.4" r="2.6" fill="#76b035"></circle>
<circle cx="303.8" cy="371.4" r="2.6" fill="#76b035"></circle>
<circle cx="313.3" cy="371.4" r="2.6" fill="#76b035"></circle>
<circle cx="322.7" cy="371.4" r="2.6" fill="#76b035"></circle>
<circle cx="332.2" cy="371.4" r="2.6" fill="#76b035"></circle>
<circle cx="341.6" cy="371.4" r="2.6" fill="#76b035"></circle>
<circle cx="351.0" cy="371.4" r="2.6" fill="#76b035"></circle>
<circle cx="360.5" cy="302.8" r="2.6" fill="#76b035"></circle>
<circle cx="369.9" cy="302.8" r="2.6" fill="#76b035"></circle>
<circle cx="379.4" cy="302.8" r="2.6" fill="#76b035"></circle>
<circle cx="388.8" cy="302.8" r="2.6" fill="#76b035"></circle>
<circle cx="398.3" cy="302.8" r="2.6" fill="#76b035"></circle>
<circle cx="407.7" cy="302.8" r="2.6" fill="#76b035"></circle>
<text x="302" y="313.4" font-size="9.6">WF</text>
<circle cx="429.8" cy="135.8" r="5.6" fill="#fff" stroke="#000" stroke-width="1.05"></circle>
<text x="429.8" y="139.2" text-anchor="middle" font-size="9.6">1</text>
<line x1="429.8" y1="141.4" x2="429.8" y2="150.3" stroke="#000" stroke-width="1"></line>
<polygon points="428.2,149.5 431.4,149.5 429.8,152.8" fill="#000"></polygon>
<circle cx="429.8" cy="347.5" r="5.6" fill="#fff" stroke="#000" stroke-width="1.05"></circle>
<text x="429.8" y="350.9" text-anchor="middle" font-size="9.6">4</text>
<line x1="429.8" y1="353.1" x2="429.8" y2="360.5" stroke="#000" stroke-width="1"></line>
<polygon points="428.2,359.7 431.4,359.7 429.8,363.0" fill="#000"></polygon>
<text x="489.4" y="292.1" font-size="9" font-weight="bold">d</text>
<polygon points="539.10,283.20 540.83,287.41 545.38,287.76 541.91,290.71 542.98,295.14 539.10,292.75 535.22,295.14 536.29,290.71 532.82,287.76 537.37,287.41" fill="#6aac3a" stroke="#1a1a1a" stroke-width="0.8" stroke-linejoin="miter"></polygon>
<text x="550" y="292.4" font-size="9.75" fill="#76b035">Experimental kink state</text>
<text x="598.3" y="311.2" text-anchor="middle" font-size="9.45"><tspan font-style="italic">d</tspan><tspan font-size="6.4" dy="1.8">exp</tspan><tspan dy="-1.8"> = 2.0296 (WF), </tspan><tspan font-style="italic">w</tspan><tspan font-style="italic" font-size="6.4" dy="1.8">0</tspan><tspan dy="-1.8"> = 1.85</tspan></text><path d="M622.83 305.92 C623.87 304.36 625.95 306.63 626.99 305.07" fill="none" stroke="#000" stroke-width="0.90"></path>
<rect x="513.8" y="317.6" width="170.4" height="25.9" fill="#dfdfdf"></rect>
<line x1="523.6" y1="473.7" x2="674.6" y2="473.7" stroke="#76b035" stroke-width="4.3" stroke-linecap="round"></line>
<path d="M524.10 344.80 C525.58 345.10 529.82 345.57 533.00 346.60 C536.18 347.63 538.52 348.87 543.20 351.00 C547.88 353.13 555.57 356.52 561.10 359.40 C566.63 362.28 571.28 365.12 576.40 368.30 C581.52 371.48 586.68 375.17 591.80 378.50 C596.92 381.83 602.00 384.97 607.10 388.30 C612.20 391.63 617.30 395.35 622.40 398.50 C627.50 401.65 632.58 404.57 637.70 407.20 C642.82 409.83 648.42 412.48 653.10 414.30 C657.78 416.12 662.05 417.25 665.80 418.10 C669.55 418.95 673.97 419.18 675.60 419.40" fill="none" stroke="#76b035" stroke-width="4" stroke-linecap="round" stroke-linejoin="round"></path>
<rect x="521.8" y="342.4" width="11" height="4" rx="1.5" fill="#76b035"></rect>
<line x1="523.6" y1="318" x2="523.6" y2="486" stroke="#3a3a3a" stroke-width="0.95" stroke-dasharray="5.6 2.3 1.2 2.5"></line>
<line x1="560.8" y1="318" x2="560.8" y2="486" stroke="#3a3a3a" stroke-width="0.95" stroke-dasharray="5.6 2.3 1.2 2.5"></line>
<line x1="622.4" y1="318" x2="622.4" y2="486" stroke="#3a3a3a" stroke-width="0.95" stroke-dasharray="5.6 2.3 1.2 2.5"></line>
<line x1="675.3" y1="318" x2="675.3" y2="486" stroke="#3a3a3a" stroke-width="0.95" stroke-dasharray="5.6 2.3 1.2 2.5"></line>
<rect x="513.8" y="317.6" width="170.4" height="169.0" fill="none" stroke="#2a2a2a" stroke-width="1.1"></rect>
<path d="M513.8 343.6h2.4M513.8 473.4h2.4M684.2 343.6h-2.4M684.2 473.6h-2.4M523.6 486.5v-2.4M597.7 486.5v-2.4M671.8 486.5v-2.4M523.6 317.3v2.4M597.7 317.3v2.4M671.8 317.3v2.4" stroke="#222" stroke-width="0.9"></path>
<text x="508" y="347.0" text-anchor="end" font-size="9.6">1</text>
<text x="508" y="476.8" text-anchor="end" font-size="9.6">0</text>
<text transform="translate(495.0 406.6) rotate(-90)" text-anchor="middle" font-size="9.6"><tspan font-style="italic">ω</tspan><tspan font-size="6.6" dy="-3.6">2</tspan></text><path d="M-2.99 -5.38 C-1.93 -6.96 0.18 -4.66 1.24 -6.24" fill="none" stroke="#000" stroke-width="0.91" transform="translate(495.0 406.6) rotate(-90)"></path>
<text x="523.6" y="501.4" text-anchor="middle" font-size="9.6">0</text>
<text x="597.7" y="501.4" text-anchor="middle" font-size="9.6">0.5</text>
<text x="671.8" y="501.4" text-anchor="middle" font-size="9.6">1</text>
<text x="598.3" y="514.6" text-anchor="middle" font-size="9.4"><tspan font-style="italic">ψ</tspan><tspan font-style="italic" font-size="6.3" dy="1.8">140</tspan><tspan dy="-1.8">/</tspan><tspan font-style="italic">ψ</tspan></text><path d="M607.24 506.99 H612.13" fill="none" stroke="#000" stroke-width="0.89"></path>
<circle cx="523.8" cy="437.7" r="5.6" fill="#fff" stroke="#000" stroke-width="1.05"></circle>
<text x="523.8" y="441.1" text-anchor="middle" font-size="9.6">1</text>
<circle cx="560.8" cy="437.7" r="5.6" fill="#fff" stroke="#000" stroke-width="1.05"></circle>
<text x="560.8" y="441.1" text-anchor="middle" font-size="9.6">2</text>
<circle cx="622.4" cy="437.7" r="5.6" fill="#fff" stroke="#000" stroke-width="1.05"></circle>
<text x="622.4" y="441.1" text-anchor="middle" font-size="9.6">3</text>
<circle cx="675.3" cy="437.7" r="5.6" fill="#fff" stroke="#000" stroke-width="1.05"></circle>
<text x="675.3" y="441.1" text-anchor="middle" font-size="9.6">4</text>
<rect x="594.5" y="364.6" width="78" height="10.4" fill="#fff"></rect>
<rect x="607" y="377.4" width="65.5" height="8.6" fill="#fff"></rect>
<rect x="643.4" y="389.4" width="29.2" height="10.6" fill="#fff"></rect>
<text x="671.8" y="372.6" text-anchor="end" font-size="9.75">Lowest frequency</text>
<text x="671.8" y="385.1" text-anchor="end" font-size="9.75">internal modes</text>
<text x="671.8" y="397.5" text-anchor="end" font-size="9.75">(LFIM)</text>
<rect x="570" y="460.8" width="53" height="8.6" fill="#fff"></rect>
<text x="596.7" y="468.4" text-anchor="middle" font-size="9.8">Zero modes</text>
</svg></body></html>
